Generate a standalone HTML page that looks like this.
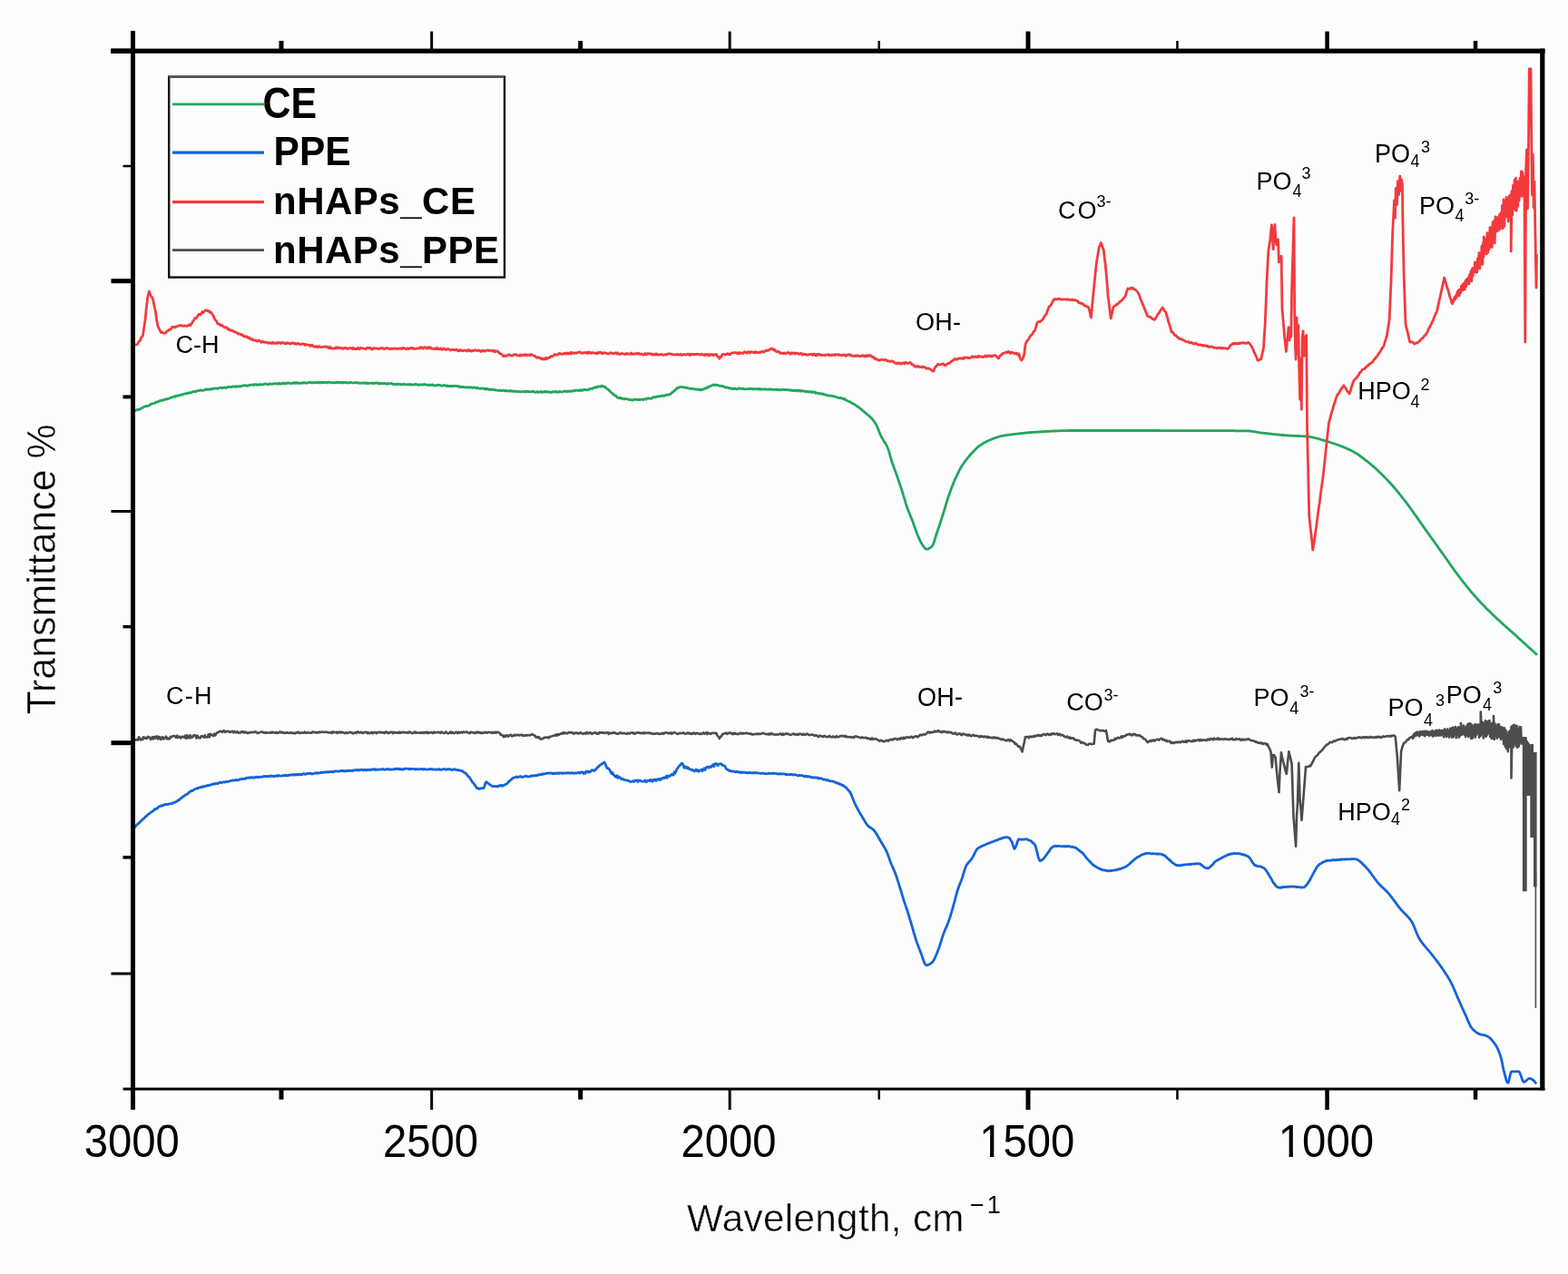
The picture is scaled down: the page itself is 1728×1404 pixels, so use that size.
<!DOCTYPE html>
<html><head><meta charset="utf-8"><title>FTIR spectra</title>
<style>
html,body{margin:0;padding:0;background:#fdfdfd;}
body{width:1728px;height:1404px;overflow:hidden;}
svg{display:block;}
text{font-family:"Liberation Sans",Arial,sans-serif;fill:#000;}
</style></head><body>
<svg width="1728" height="1404" viewBox="0 0 1728 1404">
<polyline points="147,453.3 148,452.8 149,452.7 150,452 151,451.5 152,451.4 153,451.5 154,451 155,450.5 156,449.6 157,449.5 158,448.8 159,448.3 160,447.8 161,447.5 162,447.8 163,447.3 164,446.9 165,446.4 166,445.4 167,445.1 168,445 169,444.7 170,444.5 171,444.1 172,443 173,443.1 174,442.8 175,442.3 176,441.6 177,441.6 178,440.9 179,441.4 180,441 181,440.4 182,439.9 183,440.2 184,439.6 185,439.6 186,439.2 187,438.6 188,438.2 189,438.2 190,437.7 191,437.2 192,437 193,437.3 194,436.2 195,436 196,436.3 197,435.7 198,435.6 199,435.3 200,434.9 201,435.3 202,434.3 203,434.2 204,433.8 205,434 206,433.4 207,433.2 208,433.4 209,432.7 210,432.7 211,432.8 212,431.8 213,431.5 214,431.5 215,431.8 216,431.4 217,430.8 218,430.7 219,430.3 220,430.4 221,429.8 222,430.3 223,430.3 224,430.2 225,429.8 226,429.9 227,428.8 228,428.9 229,429.5 230,429.2 231,428.7 232,429.1 233,428.7 234,428.8 235,428.2 236,428 237,428.2 238,427.8 239,428 240,428.4 241,427.7 242,427.3 243,427.3 244,427.3 245,427.8 246,427.3 247,427.1 248,426.8 249,427.6 250,426.9 251,426.6 252,426.4 253,426.3 254,426.3 255,426.7 256,426.1 257,425.9 258,426.2 259,425.9 260,426.5 261,425.6 262,425.9 263,426 264,425.6 265,426.1 266,425.4 267,425.1 268,425.2 269,424.7 270,425 271,424.7 272,425.3 273,425.1 274,424.7 275,424.1 276,424.3 277,424.2 278,424 279,424 280,424.5 281,423.7 282,423.5 283,424.3 284,423.9 285,424.3 286,423.6 287,424 288,423.7 289,423.8 290,423.7 291,423.4 292,422.9 293,423 294,423.6 295,423.6 296,423.5 297,422.9 298,423.2 299,423.3 300,423.1 301,423.2 302,422.9 303,422.9 304,422.9 305,422.5 306,423.1 307,423.1 308,422.2 309,423 310,423 311,422.6 312,422 313,422.8 314,422 315,422.8 316,422.5 317,421.9 318,422 319,422.4 320,422.3 321,422.5 322,422.6 323,421.9 324,421.6 325,422.5 326,421.6 327,422.4 328,421.6 329,422.3 330,422.3 331,422.3 332,422 333,422.3 334,421.6 335,422 336,421.7 337,422.2 338,422.1 339,421.8 340,421.8 341,421.3 342,421.3 343,421.8 344,421.7 345,422 346,421.8 347,421.3 348,421.5 349,421.9 350,421.6 351,421.1 352,421.9 353,421.9 354,421.1 355,421.6 356,421.4 357,421.8 358,421.3 359,421.3 360,421.5 361,422 362,421.1 363,421.1 364,421.6 365,421.9 366,421.5 367,421.4 368,421.9 369,421.8 370,421.1 371,421.9 372,421.2 373,421.3 374,421.9 375,421.5 376,421.9 377,421.2 378,422 379,421.3 380,421.3 381,421.6 382,421.5 383,421.7 384,422.1 385,421.9 386,421.2 387,421.5 388,421.8 389,421.8 390,422 391,421.8 392,421.4 393,421.6 394,422.2 395,421.7 396,422.2 397,422.4 398,422.1 399,422.1 400,422.1 401,421.8 402,422.4 403,422 404,422.5 405,421.9 406,422.5 407,422.4 408,422.3 409,422.2 410,421.9 411,422.6 412,422.2 413,422.5 414,422 415,422 416,422.1 417,422.8 418,422.2 419,423 420,422.5 421,422.7 422,422.5 423,422.8 424,422.3 425,422.7 426,423.3 427,422.5 428,423 429,422.8 430,422.8 431,422.5 432,422.6 433,423.5 434,423.4 435,423.4 436,423.5 437,423.7 438,422.9 439,423.4 440,423.3 441,423.4 442,423.8 443,423.6 444,423.9 445,423.1 446,423.6 447,423.7 448,423.8 449,423.7 450,423.9 451,423.4 452,424 453,423.5 454,423.8 455,424.1 456,423.9 457,423.5 458,423.5 459,423.6 460,423.9 461,424.3 462,424.3 463,423.8 464,423.8 465,424.2 466,423.7 467,423.9 468,423.5 469,423.7 470,424.1 471,424.3 472,424.3 473,424 474,424.7 475,424.4 476,424 477,423.9 478,424.9 479,424.9 480,424.9 481,424.6 482,424.4 483,424.2 484,424.4 485,424.4 486,425.2 487,425.2 488,425.1 489,424.6 490,424.7 491,424.8 492,425.5 493,424.8 494,425.5 495,425.5 496,425.4 497,425.9 498,425.2 499,425.6 500,425.3 501,425.3 502,425.3 503,425.6 504,425.5 505,425.5 506,426.5 507,425.9 508,426.5 509,426.4 510,426.5 511,426.5 512,426.9 513,426.9 514,426.8 515,426.7 516,426.9 517,427 518,426.9 519,427 520,426.7 521,427.5 522,427.2 523,426.9 524,427.1 525,427.9 526,427.4 527,427.7 528,428.1 529,428.4 530,427.9 531,428.1 532,428.2 533,428 534,428.9 535,428.2 536,429.2 537,428.5 538,428.6 539,429.4 540,429.5 541,429 542,429.4 543,429.4 544,429.7 545,429.3 546,430 547,430.2 548,430 549,430.3 550,430.4 551,430 552,430.5 553,430.6 554,430.4 555,430 556,430.6 557,430.9 558,430.4 559,430.8 560,431.1 561,430.9 562,430.4 563,431.1 564,430.7 565,431.4 566,431.2 567,430.9 568,431.6 569,431.3 570,431.1 571,431.6 572,431.7 573,431.7 574,431.8 575,431.6 576,431.6 577,431.6 578,431.5 579,432 580,431.4 581,431.2 582,431.8 583,431.7 584,431.7 585,431.8 586,431.5 587,431.5 588,431.4 589,432.1 590,432.3 591,432.1 592,431.5 593,432.4 594,432.2 595,431.9 596,431.4 597,432.3 598,432.1 599,432.1 600,431.5 601,432.2 602,431.5 603,432 604,431.6 605,431.9 606,432.4 607,432.2 608,432.3 609,431.7 610,431.8 611,432 612,431.4 613,431.8 614,432.3 615,432 616,432.1 617,431.5 618,431.9 619,431.9 620,431.8 621,431.5 622,431.1 623,430.9 624,431.7 625,431.7 626,431 627,431.4 628,431 629,431.1 630,431.3 631,430.7 632,430.9 633,430.5 634,430.6 635,430.1 636,430.2 637,430.2 638,430.7 639,429.8 640,430.4 641,429.6 642,430.4 643,429.5 644,429.3 645,429.3 646,429.9 647,429.6 648,429.7 649,429.1 650,428.5 651,428.4 652,428.3 653,428.5 654,427.4 655,427.1 656,427.4 657,426.4 658,426.9 659,426 660,426 661,426 662,426.1 663,425.2 664,426 665,425.6 666,426.6 667,426.5 668,428 669,428.3 670,429.2 671,429.9 672,431.1 673,431.8 674,433.2 675,433.6 676,434.2 677,435.7 678,435.7 679,436.5 680,437.8 681,438.3 682,438.4 683,438.9 684,438.2 685,439.3 686,439.4 687,439.5 688,439.9 689,439.4 690,439.6 691,439.7 692,440.2 693,440.4 694,440.5 695,440.4 696,440.9 697,441 698,440.9 699,440.2 700,440.3 701,440.4 702,440.4 703,440.7 704,440.2 705,440.6 706,440.2 707,440.1 708,440.4 709,440.5 710,439.6 711,439.7 712,440.2 713,439.2 714,438.9 715,438.9 716,439.4 717,439.1 718,439.1 719,438.4 720,437.6 721,437.7 722,437.9 723,437.4 724,437 725,437 726,437 727,436.7 728,436.6 729,436.2 730,435.9 731,436.5 732,436.2 733,435.7 734,435.2 735,435.2 736,435.2 737,435.2 738,434.5 739,434.4 740,433.3 741,432.1 742,431.7 743,430.8 744,429.9 745,429.2 746,427.7 747,427.5 748,427.4 749,426.5 750,426.3 751,426.5 752,426.7 753,426.9 754,426.9 755,427.3 756,427 757,427.3 758,427.8 759,427.8 760,428.4 761,428.6 762,428.1 763,428.3 764,428.7 765,428.8 766,428.8 767,429.4 768,428.9 769,429.2 770,429 771,429.8 772,429.5 773,429.8 774,428.8 775,429.1 776,428.7 777,427.7 778,428 779,427.6 780,426.3 781,426.7 782,426 783,425.4 784,425 785,424.4 786,423.9 787,424.2 788,424.6 789,424 790,424.3 791,424.3 792,424.9 793,425.3 794,425.5 795,425.2 796,425.6 797,425.5 798,426.3 799,426.9 800,427.2 801,426.7 802,427.3 803,427.2 804,427.7 805,428.3 806,427.8 807,428.5 808,428.6 809,428.5 810,428 811,428.7 812,428.8 813,428.9 814,427.9 815,427.9 816,428.3 817,428.5 818,428.5 819,428.2 820,428.7 821,428.8 822,428.8 823,428.7 824,428.7 825,428.9 826,428.3 827,428.7 828,428.4 829,428.4 830,429 831,428.6 832,428.7 833,428.6 834,428.9 835,428.5 836,429 837,428.5 838,429.4 839,428.6 840,429.2 841,429 842,428.9 843,428.8 844,428.9 845,429.3 846,429.1 847,429.1 848,428.8 849,429.2 850,428.8 851,429.1 852,429.3 853,429.2 854,429.3 855,429.3 856,429 857,429.8 858,429.5 859,429.6 860,429.9 861,429.4 862,429.4 863,429.4 864,429.4 865,429.5 866,429.5 867,429.5 868,429.8 869,429.7 870,429.8 871,430.2 872,429.9 873,430.5 874,430.5 875,430.1 876,430.7 877,430.1 878,430.1 879,431.1 880,430.2 881,430.3 882,431.2 883,430.4 884,431.2 885,431.2 886,430.9 887,431.1 888,431.9 889,431.4 890,431.4 891,431.7 892,432.1 893,431.7 894,431.6 895,432.5 896,431.9 897,432 898,432.1 899,433.3 900,432.9 901,433.4 902,433.4 903,434 904,433.6 905,433.8 906,434.4 907,433.9 908,434.5 909,435.2 910,435.2 911,435.4 912,436 913,435.8 914,436.3 915,436.2 916,436.1 917,436.6 918,436.7 919,436.7 920,437.1 921,437.2 922,437.7 923,438.1 924,438.3 925,438.6 926,438.3 927,438.8 928,439.3 929,439.1 930,440 931,439.5 932,440.8 933,441.2 934,441.8 935,442.2 936,442.6 937,442.9 938,443.8 939,444.5 940,444.8 941,445.4 942,446 943,446.6 944,447.3 945,448 946,448.7 947,449.5 948,450.2 949,451 950,451.8 951,452.7 952,453.5 953,454.4 954,455.2 955,456.1 956,456.9 957,457.8 958,458.6 959,459.6 960,460.6 961,461.6 962,462.8 963,464 964,465.3 965,466.9 966,468.9 967,471.1 968,473.6 969,476.1 970,478.5 971,480.7 972,482.6 973,484.3 974,485.9 975,487.5 976,489.1 977,490.9 978,492.9 979,495.4 980,498.7 981,502.3 982,506 983,509.2 984,512.1 985,514.8 986,517.5 987,520.1 988,522.9 989,525.7 990,528.7 991,531.6 992,534.6 993,537.7 994,540.8 995,544 996,547.3 997,550.7 998,554.1 999,557.2 1000,560.2 1001,562.8 1002,565.3 1003,567.7 1004,570.1 1005,572.5 1006,575.1 1007,577.9 1008,580.8 1009,583.7 1010,586.5 1011,589 1012,591.4 1013,593.6 1014,595.8 1015,597.8 1016,599.6 1017,601 1018,602.4 1019,603.7 1020,604.7 1021,605.2 1022,605.1 1023,604.8 1024,604.4 1025,603.8 1026,603 1027,602.2 1028,600.7 1029,598.2 1030,595.1 1031,591.8 1032,588.5 1033,585.6 1034,582.6 1035,579.7 1036,576.7 1037,573.7 1038,570.6 1039,567.5 1040,564.4 1041,561.1 1042,557.7 1043,554.4 1044,551.1 1045,548 1046,545.1 1047,542.2 1048,539.5 1049,536.8 1050,534.3 1051,531.8 1052,529.4 1053,527.2 1054,525 1055,522.8 1056,520.8 1057,518.8 1058,516.9 1059,515.2 1060,513.5 1061,512 1062,510.5 1063,509.1 1064,507.7 1065,506.5 1066,505.2 1067,504 1068,502.8 1069,501.7 1070,500.5 1071,499.4 1072,498.3 1073,497.2 1074,496.2 1075,495.2 1076,494.2 1077,493.3 1078,492.4 1079,491.6 1080,490.9 1081,490.2 1082,489.6 1083,488.9 1084,488.3 1085,487.8 1086,487.2 1087,486.7 1088,486.2 1089,485.8 1090,485.3 1091,484.9 1092,484.5 1093,484 1094,483.6 1095,483.2 1096,482.8 1097,482.5 1098,482.1 1099,481.8 1100,481.5 1101,481.2 1102,480.9 1103,480.7 1104,480.5 1105,480.3 1106,480.1 1107,479.9 1108,479.7 1109,479.6 1110,479.4 1111,479.3 1112,479.2 1113,479 1114,478.9 1115,478.8 1116,478.7 1117,478.5 1118,478.4 1119,478.3 1120,478.2 1121,478.1 1122,477.9 1123,477.8 1124,477.7 1125,477.6 1126,477.5 1127,477.4 1128,477.3 1129,477.2 1130,477.1 1131,477 1132,476.9 1133,476.8 1134,476.7 1135,476.6 1136,476.5 1137,476.5 1138,476.4 1139,476.3 1140,476.3 1141,476.2 1142,476.1 1143,476.1 1144,476 1145,476 1146,475.9 1147,475.8 1148,475.8 1149,475.7 1150,475.7 1151,475.6 1152,475.5 1153,475.5 1154,475.4 1155,475.4 1156,475.3 1157,475.3 1158,475.2 1159,475.2 1160,475.1 1161,475.1 1162,475 1163,475 1164,474.9 1165,474.9 1166,474.8 1167,474.8 1168,474.8 1169,474.7 1170,474.7 1171,474.7 1172,474.6 1173,474.6 1174,474.6 1175,474.6 1176,474.6 1177,474.5 1178,474.5 1179,474.5 1180,474.5 1181,474.5 1182,474.5 1183,474.5 1184,474.5 1185,474.5 1186,474.5 1187,474.5 1188,474.5 1189,474.5 1190,474.5 1191,474.5 1192,474.5 1193,474.5 1194,474.5 1195,474.5 1196,474.5 1197,474.5 1198,474.5 1199,474.5 1200,474.5 1201,474.5 1202,474.5 1203,474.5 1204,474.5 1205,474.5 1206,474.5 1207,474.5 1208,474.5 1209,474.5 1210,474.5 1211,474.5 1212,474.5 1213,474.5 1214,474.5 1215,474.5 1216,474.5 1217,474.5 1218,474.5 1219,474.5 1220,474.5 1221,474.5 1222,474.5 1223,474.5 1224,474.5 1225,474.5 1226,474.5 1227,474.5 1228,474.5 1229,474.5 1230,474.5 1231,474.5 1232,474.5 1233,474.5 1234,474.5 1235,474.5 1236,474.5 1237,474.5 1238,474.5 1239,474.5 1240,474.5 1241,474.5 1242,474.5 1243,474.5 1244,474.5 1245,474.5 1246,474.5 1247,474.5 1248,474.5 1249,474.5 1250,474.5 1251,474.5 1252,474.5 1253,474.5 1254,474.5 1255,474.5 1256,474.5 1257,474.5 1258,474.5 1259,474.5 1260,474.5 1261,474.5 1262,474.5 1263,474.5 1264,474.5 1265,474.5 1266,474.5 1267,474.5 1268,474.5 1269,474.5 1270,474.5 1271,474.5 1272,474.5 1273,474.5 1274,474.5 1275,474.5 1276,474.5 1277,474.5 1278,474.5 1279,474.6 1280,474.6 1281,474.6 1282,474.6 1283,474.6 1284,474.6 1285,474.6 1286,474.6 1287,474.6 1288,474.6 1289,474.6 1290,474.6 1291,474.6 1292,474.6 1293,474.6 1294,474.6 1295,474.6 1296,474.6 1297,474.6 1298,474.6 1299,474.6 1300,474.6 1301,474.6 1302,474.6 1303,474.6 1304,474.6 1305,474.6 1306,474.6 1307,474.6 1308,474.6 1309,474.6 1310,474.6 1311,474.6 1312,474.6 1313,474.6 1314,474.6 1315,474.6 1316,474.6 1317,474.6 1318,474.6 1319,474.6 1320,474.6 1321,474.6 1322,474.6 1323,474.6 1324,474.6 1325,474.6 1326,474.6 1327,474.6 1328,474.6 1329,474.6 1330,474.7 1331,474.7 1332,474.7 1333,474.7 1334,474.7 1335,474.7 1336,474.7 1337,474.7 1338,474.7 1339,474.7 1340,474.7 1341,474.7 1342,474.7 1343,474.7 1344,474.7 1345,474.7 1346,474.7 1347,474.7 1348,474.7 1349,474.7 1350,474.7 1351,474.7 1352,474.7 1353,474.7 1354,474.7 1355,474.7 1356,474.7 1357,474.7 1358,474.7 1359,474.7 1360,474.7 1361,474.8 1362,474.8 1363,474.8 1364,474.8 1365,474.8 1366,474.8 1367,474.8 1368,474.8 1369,474.8 1370,474.8 1371,474.8 1372,474.8 1373,474.8 1374,474.8 1375,474.9 1376,474.9 1377,475 1378,475.1 1379,475.3 1380,475.4 1381,475.6 1382,475.7 1383,475.9 1384,476 1385,476.2 1386,476.4 1387,476.5 1388,476.7 1389,476.8 1390,477 1391,477.1 1392,477.2 1393,477.3 1394,477.4 1395,477.5 1396,477.6 1397,477.8 1398,477.9 1399,478 1400,478.1 1401,478.2 1402,478.3 1403,478.4 1404,478.5 1405,478.7 1406,478.8 1407,478.9 1408,479 1409,479.1 1410,479.2 1411,479.3 1412,479.4 1413,479.5 1414,479.5 1415,479.6 1416,479.7 1417,479.8 1418,479.9 1419,479.9 1420,480 1421,480.1 1422,480.1 1423,480.2 1424,480.2 1425,480.3 1426,480.3 1427,480.3 1428,480.4 1429,480.4 1430,480.5 1431,480.5 1432,480.5 1433,480.6 1434,480.6 1435,480.7 1436,480.7 1437,480.8 1438,480.9 1439,480.9 1440,481 1441,481.1 1442,481.2 1443,481.3 1444,481.5 1445,481.7 1446,481.9 1447,482.1 1448,482.3 1449,482.5 1450,482.8 1451,483 1452,483.3 1453,483.6 1454,483.9 1455,484.2 1456,484.5 1457,484.8 1458,485.1 1459,485.4 1460,485.7 1461,486 1462,486.3 1463,486.6 1464,486.9 1465,487.2 1466,487.5 1467,487.9 1468,488.2 1469,488.5 1470,488.8 1471,489.2 1472,489.5 1473,489.8 1474,490.2 1475,490.6 1476,490.9 1477,491.3 1478,491.7 1479,492.1 1480,492.5 1481,492.9 1482,493.3 1483,493.7 1484,494.2 1485,494.6 1486,495.1 1487,495.5 1488,496 1489,496.5 1490,497 1491,497.5 1492,498.1 1493,498.7 1494,499.3 1495,499.9 1496,500.5 1497,501.2 1498,501.9 1499,502.6 1500,503.3 1501,504.1 1502,504.8 1503,505.6 1504,506.4 1505,507.1 1506,507.9 1507,508.7 1508,509.5 1509,510.3 1510,511.1 1511,512 1512,512.8 1513,513.6 1514,514.5 1515,515.4 1516,516.3 1517,517.2 1518,518.1 1519,519.1 1520,520 1521,521 1522,521.9 1523,522.9 1524,523.9 1525,524.9 1526,525.9 1527,527 1528,528 1529,529.1 1530,530.1 1531,531.2 1532,532.3 1533,533.4 1534,534.5 1535,535.7 1536,536.8 1537,538 1538,539.2 1539,540.4 1540,541.6 1541,542.8 1542,544 1543,545.3 1544,546.5 1545,547.8 1546,549.1 1547,550.4 1548,551.6 1549,552.9 1550,554.2 1551,555.5 1552,556.9 1553,558.2 1554,559.6 1555,561 1556,562.3 1557,563.7 1558,565.2 1559,566.6 1560,568 1561,569.4 1562,570.9 1563,572.3 1564,573.7 1565,575.2 1566,576.6 1567,578 1568,579.4 1569,580.9 1570,582.3 1571,583.7 1572,585.1 1573,586.5 1574,587.9 1575,589.3 1576,590.7 1577,592.1 1578,593.5 1579,594.9 1580,596.3 1581,597.7 1582,599.1 1583,600.5 1584,601.9 1585,603.3 1586,604.7 1587,606.1 1588,607.5 1589,608.9 1590,610.3 1591,611.7 1592,613.1 1593,614.5 1594,616 1595,617.4 1596,618.8 1597,620.3 1598,621.7 1599,623.1 1600,624.5 1601,625.9 1602,627.3 1603,628.7 1604,630.1 1605,631.5 1606,632.9 1607,634.2 1608,635.5 1609,636.9 1610,638.1 1611,639.4 1612,640.7 1613,642 1614,643.2 1615,644.5 1616,645.7 1617,647 1618,648.2 1619,649.4 1620,650.6 1621,651.8 1622,653 1623,654.2 1624,655.3 1625,656.5 1626,657.6 1627,658.7 1628,659.9 1629,661 1630,662.1 1631,663.1 1632,664.2 1633,665.2 1634,666.3 1635,667.3 1636,668.3 1637,669.4 1638,670.4 1639,671.4 1640,672.4 1641,673.3 1642,674.3 1643,675.3 1644,676.2 1645,677.2 1646,678.2 1647,679.1 1648,680.1 1649,681 1650,682 1651,682.9 1652,683.8 1653,684.8 1654,685.7 1655,686.6 1656,687.5 1657,688.4 1658,689.3 1659,690.1 1660,691 1661,691.9 1662,692.8 1663,693.7 1664,694.6 1665,695.5 1666,696.3 1667,697.2 1668,698.1 1669,699 1670,699.9 1671,700.8 1672,701.7 1673,702.7 1674,703.6 1675,704.5 1676,705.4 1677,706.3 1678,707.2 1679,708.1 1680,709 1681,709.9 1682,710.8 1683,711.7 1684,712.7 1685,713.6 1686,714.5 1687,715.4 1688,716.3 1689,717.2 1690,718.1 1691,719.1 1692,720 1693,720.9 1694,721.8" fill="none" stroke="#22a65e" stroke-width="2.8" stroke-linejoin="round" stroke-linecap="butt" />
<polyline points="147,380.2 148,380.4 149.1,379.8 150.1,379.9 151.2,379.6 152.2,378.2 153.2,376.2 154.3,375.8 155.3,372.8 156.4,370.8 157.4,370.3 158.7,360.6 160,352.6 161.3,339.9 162.6,328.1 164.3,321.1 165.4,323.9 166.4,326.3 167.5,327.6 168.6,329.9 169.9,336.8 171.3,342.6 172.6,351.7 173.9,359.2 175.2,361.9 176.5,364.8 177.5,366.5 178.6,366 179.6,366.7 180.7,367.2 181.7,367.2 182.8,366.7 184,364.9 185.1,364.7 186.3,363.2 187.4,363.3 188.6,362.3 189.7,360.6 190.8,360.3 191.9,360.1 192.9,361.1 194,359.9 195.1,359.9 196.2,359 197.3,359 198.3,358.7 199.3,358.6 200.3,359 201.3,358.9 202.3,359.4 203.4,358.9 204.4,359.3 205.4,359.1 206.4,359.3 207.4,358.6 208.4,357.7 209.4,358.8 210.5,357.6 211.5,356.1 212.6,354.1 213.6,353 214.7,350.7 215.8,350.8 217,349.3 218.1,347.8 219.3,346.3 220.4,346.8 221.6,346 222.8,343.8 223.9,344.5 225.1,343.2 226.2,342.2 227.3,341.9 228.5,342.2 229.6,343.2 230.6,342.6 231.7,344.5 232.7,344.3 233.8,346.4 234.9,347.6 236.1,350.5 237.2,352.5 238.4,353.5 239.5,356.3 240.7,357 241.8,357.1 243,358.6 244.1,358.2 245.3,359.1 246.4,360.1 247.6,361 248.7,360.6 249.7,360.9 250.8,362.8 251.9,362.3 252.9,363.9 254,364.3 255.1,363.8 256.2,364.4 257.2,365 258.3,365.7 259.4,366 260.4,366.4 261.5,367 262.5,368.1 263.5,367.7 264.6,368.1 265.6,369.1 266.6,368.7 267.6,369.2 268.7,370.9 269.7,370.6 270.7,371.1 271.7,370.6 272.8,371.8 273.8,372.5 274.8,372 275.8,373.5 276.9,374 277.9,373.4 278.9,374.9 279.9,374.8 280.9,375.4 282,375 283,375.9 284,376.1 285,375 286,375.3 287.1,376.6 288.1,377.3 289.1,376.3 290.1,376.8 291.1,377.3 292.2,377 293.2,377.3 294.2,377.4 295.2,377.7 296.2,378.3 297.3,377.7 298.3,377.9 299.3,378.6 300.3,377.2 301.4,378.2 302.4,378.5 303.4,377.8 304.4,377.6 305.4,378.6 306.5,377.6 307.5,377.5 308.5,378 309.5,378.5 310.5,377.4 311.6,377.8 312.6,377.8 313.6,378.7 314.6,378 315.6,378.8 316.7,377.7 317.7,378 318.7,378.6 319.7,379.1 320.8,378.4 321.8,378 322.8,377.9 323.8,378.7 324.9,378.1 325.9,379.3 326.9,379.4 327.9,378.3 329,378.5 330,379.5 331,379.3 332,379.7 333,379 334.1,378.8 335.1,379.2 336.1,380.3 337.1,379.5 338.1,379.8 339.1,380.1 340.2,380.2 341.2,380.4 342.2,381.4 343.2,380.2 344.2,380.1 345.2,381.9 346.3,382 347.3,382.3 348.3,381.5 349.3,382.5 350.3,382.6 351.4,381.4 352.4,382.4 353.4,382.7 354.4,382.5 355.5,382.3 356.5,382 357.5,382.2 358.5,382.1 359.6,381.9 360.6,383 361.6,382.5 362.6,383.6 363.7,382.3 364.7,383.9 365.7,383.6 366.7,384.1 367.7,384.1 368.8,384.1 369.8,383.5 370.8,382.6 371.8,383.9 372.8,382.9 373.9,383.2 374.9,383.8 375.9,383.6 376.9,383.4 377.9,384.4 379,383.8 380,383.4 381,383.3 382,384.4 383,383.7 384.1,384.3 385.1,383.5 386.1,383.3 387.1,383.9 388.2,384.5 389.2,383.3 390.2,384.5 391.2,384.7 392.2,384.5 393.3,384.6 394.3,383.2 395.3,384.3 396.3,384.7 397.3,383.3 398.4,383.7 399.4,383.8 400.4,384.2 401.4,384.1 402.4,384.2 403.4,384.7 404.5,383.3 405.5,383.4 406.5,383.5 407.5,383.5 408.5,383.4 409.5,385.1 410.6,384.8 411.6,383.5 412.6,384.2 413.6,383.9 414.6,383.9 415.6,383.9 416.6,384.5 417.7,384.4 418.7,383.9 419.7,383.6 420.7,383.9 421.7,383.5 422.7,384.3 423.8,384.6 424.8,384 425.8,383.4 426.8,383.6 427.8,384 428.8,384.4 429.8,384.7 430.9,384 431.9,384.7 432.9,384.4 433.9,384.1 434.9,384 435.9,384.2 437,384.6 438,384.1 439,384.5 440,384.1 441,383.7 442,384.2 443,384.5 444,383.3 445.1,383.9 446.1,383.9 447.1,384.7 448.1,384.8 449.1,383.8 450.1,384.7 451.1,384.5 452.1,383.5 453.2,383.8 454.2,383.2 455.2,384.4 456.2,384.1 457.2,384.5 458.2,384.3 459.2,384 460.2,384.1 461.3,383.8 462.3,383 463.3,383.8 464.3,382.7 465.3,383 466.3,384.1 467.3,382.7 468.3,382.8 469.4,382.8 470.4,384.2 471.4,382.9 472.4,382.6 473.4,384 474.4,382.8 475.4,384.2 476.5,384 477.5,384.4 478.5,384.7 479.5,384.1 480.5,384.6 481.5,383.3 482.6,384.7 483.6,384.3 484.6,384.8 485.6,383.8 486.6,385 487.6,385.4 488.7,384 489.7,384.5 490.7,385 491.7,385.6 492.7,384.6 493.7,384.6 494.8,384.8 495.8,385.6 496.8,385.9 497.8,385.4 498.8,385.4 499.8,385.5 500.9,385.6 501.9,385.8 502.9,385.2 503.9,386 504.9,386.9 505.9,385.9 506.9,386.5 507.9,385.5 508.9,386.5 509.9,386.6 510.9,386.5 511.9,386.2 512.9,386.2 513.9,386.5 514.9,387 515.9,385.6 516.9,385.6 517.9,386.7 518.9,387.1 519.9,386.4 520.9,386.3 521.9,386.8 522.9,385.8 523.9,386 524.9,385.9 526,386.6 527,386.1 528,386 529,386.9 530,387.4 531,386.2 532,386.9 533,386.4 534,387.3 535,386.8 536,386.2 537,386.2 538,385.8 539,386.7 540,386.5 541,386.2 542,386.5 543,386.5 544,387.3 545,386.2 546,387.7 547,386.8 548,387.1 549,387.6 550,389 551,389.7 552,390 553,390.6 554,391.8 555,392.7 556,391.8 557,392.3 558,392.6 559,391.6 560,391 561,390.9 562,391.7 563,391.6 564,392.1 565,391.9 566,390.8 567.1,390.7 568.1,390.9 569.1,390.7 570.1,391.7 571.1,391.9 572.1,392 573.1,390.9 574.1,392 575.1,391 576.1,391.2 577.2,391.7 578.2,390.6 579.2,390.6 580.2,391.9 581.2,390.9 582.2,391 583.2,391.4 584.2,391.6 585.2,390.4 586.2,391 587.3,391.6 588.3,392.1 589.4,392.1 590.4,393.2 591.5,394.3 592.5,393.7 593.6,394.4 594.6,394.1 595.7,394.8 596.7,395.9 597.9,394.8 599,396 600.2,395.9 601.3,394.3 602.5,395.6 603.6,394.5 604.7,394.7 605.8,394.1 606.9,392.7 608,392.9 609,392.3 610.1,392 611.2,390.5 612.3,390.9 613.3,391.2 614.3,390.6 615.3,390.3 616.3,389.4 617.3,390 618.3,389.7 619.3,390.3 620.3,390.2 621.3,389.9 622.3,389.1 623.3,389.9 624.3,389.8 625.3,388.9 626.3,390.1 627.3,389.6 628.3,388.6 629.3,390 630.3,388.5 631.3,388.8 632.3,389.4 633.3,389.1 634.3,389 635.3,389.1 636.3,388.7 637.3,388.3 638.3,388 639.3,387.8 640.3,389 641.3,389.1 642.3,388.8 643.3,389.1 644.4,388.5 645.4,388.3 646.4,388.6 647.4,389.5 648.4,388 649.4,388.9 650.4,388.4 651.4,389.4 652.4,388.6 653.4,388.6 654.4,388.8 655.4,389.1 656.5,389.5 657.5,388.8 658.5,389.7 659.5,388.4 660.5,388.7 661.5,388.4 662.5,388.4 663.5,389.7 664.5,389.6 665.5,388.6 666.5,388.7 667.6,389.1 668.6,389.7 669.6,389.9 670.6,389.8 671.6,389.5 672.6,388.7 673.6,389.2 674.6,388.8 675.6,389.5 676.6,389.6 677.6,388.9 678.6,389 679.7,390 680.7,388.7 681.7,390.1 682.7,390.3 683.7,390.4 684.7,389.4 685.7,389.7 686.7,389.8 687.7,389.9 688.7,390.6 689.7,390.1 690.7,389.4 691.8,390.4 692.8,389.8 693.8,390 694.8,390.3 695.8,389 696.8,390.4 697.8,390.2 698.8,389.9 699.8,390 700.8,389.9 701.8,389.4 702.9,390.1 703.9,389.2 704.9,390.1 705.9,390.4 706.9,390 707.9,390.3 708.9,391 709.9,390.9 710.9,389.5 711.9,390.7 712.9,390.5 713.9,389.5 715,390 716,389.8 717,389.6 718,390.4 719,391.2 720,390.1 721,391.1 722,390.8 723,389.8 724,391.1 725,390.6 726,391.2 727,390.9 728,390.9 729.1,390.2 730.1,391.1 731.1,391.3 732.1,391.2 733.1,390.5 734.1,391 735.1,390.6 736.1,389.9 737.1,389.8 738.1,389.9 739.1,390.1 740.1,390.1 741.1,390.7 742.1,391 743.1,390.8 744.1,390.6 745.1,391 746.2,390.4 747.2,390.7 748.2,391.2 749.2,390.6 750.2,390.2 751.2,391.5 752.2,391.2 753.2,390.6 754.2,390.6 755.2,390.9 756.2,391 757.2,390.4 758.2,390 759.2,390.4 760.2,391.4 761.2,390.3 762.2,390.9 763.2,390.4 764.3,390.5 765.3,390.4 766.3,390.8 767.3,390.4 768.3,390.2 769.3,390.3 770.3,390.5 771.3,391 772.3,390.3 773.3,390.2 774.3,391 775.3,391 776.3,391.5 777.3,390.3 778.3,391 779.3,391 780.3,390.3 781.4,392 782.4,390.7 783.4,390.5 784.4,391.2 785.4,390.6 786.4,391.5 787.4,391 788.4,390.6 789.4,390.5 790.6,392.8 791.7,393.2 792.9,395.2 793.9,393.4 795,393 796,390.6 797,390.4 798,390.3 799,391.2 800,390.8 801,390.1 802.1,389.6 803.1,390.5 804.1,390.9 805.1,390.1 806.1,389 807.1,388.9 808.1,388.9 809.1,388.9 810.1,388.6 811.1,388.5 812.2,389.4 813.2,389.8 814.2,388.4 815.2,389.7 816.2,388.7 817.2,389.1 818.2,389.3 819.2,389.3 820.2,387.7 821.2,388.1 822.3,388.6 823.3,389.2 824.3,387.6 825.3,388 826.3,388.9 827.3,387.6 828.3,388 829.4,387.9 830.4,388.5 831.4,388.9 832.4,387.5 833.4,388.5 834.4,388.5 835.4,388.6 836.4,388.1 837.5,388.7 838.5,387.7 839.5,387.7 840.5,387.3 841.5,388.3 842.6,387.3 843.7,386.5 844.8,385.9 845.9,386.4 846.9,385.8 848,385.6 849.1,384.5 850.2,384.3 851.3,384.2 852.4,385.8 853.5,385.1 854.5,386.4 855.6,387.5 856.7,387.8 857.8,387.3 858.9,388.1 859.9,389.3 860.9,389 862,389.5 863,389.5 864,388.8 865,389.7 866,389.5 867.1,388.8 868.1,389 869.1,388.5 870.1,389.2 871.1,390.2 872.2,388.8 873.2,389.7 874.2,388.9 875.2,388.9 876.2,390 877.3,389.4 878.3,389.1 879.3,389.3 880.3,390.3 881.4,390.2 882.4,389.3 883.4,389.7 884.4,391.1 885.4,389.9 886.5,390.5 887.5,390.3 888.5,391.1 889.5,390.8 890.5,391.2 891.6,390.8 892.6,390.3 893.6,390.3 894.6,390.2 895.6,391.5 896.7,390.2 897.7,390.1 898.7,391.8 899.7,390.4 900.7,391.7 901.8,390.2 902.8,390.9 903.8,390.5 904.8,391.6 905.8,391.2 906.9,391.3 907.9,391.5 908.9,391.7 909.9,390.8 911,391.3 912,391 913,390.4 914,391.7 915,391.3 916.1,391.7 917.1,390.6 918.1,391.3 919.1,391.1 920.1,391.6 921.2,390.5 922.2,391 923.2,391.2 924.2,390.5 925.2,391.4 926.3,391.7 927.3,391.1 928.3,391.6 929.3,391.5 930.3,390.8 931.3,391.1 932.3,392.3 933.3,391.1 934.4,391.3 935.4,390.7 936.4,391 937.4,390.9 938.4,392.3 939.4,392 940.4,392.3 941.4,392.5 942.4,391.9 943.4,392.5 944.5,391.8 945.5,391.6 946.5,392.6 947.5,392.5 948.5,392.6 949.5,391.8 950.5,392.4 951.5,391.7 952.5,392.8 953.5,392.7 954.6,391.6 955.6,392.8 956.6,391.5 957.6,391.3 958.6,392.5 959.6,391.7 960.8,392.9 961.9,393.8 963,393.5 964.2,395.5 965.4,395.4 966.5,396.4 967.6,396.3 968.6,397.1 969.7,397.1 970.8,396.4 971.8,396.1 972.9,396.5 974,396.8 975.1,396.2 976.1,396.4 977.2,397.6 978.3,397.5 979.3,398.1 980.4,398.2 981.4,398.4 982.4,397.9 983.4,398 984.4,398.7 985.4,399.4 986.4,399.9 987.4,400.4 988.4,400 989.5,400.9 990.5,399.9 991.6,400.2 992.6,401 993.6,400.9 994.7,399.9 995.7,399.8 996.8,400.9 997.8,399.4 998.8,399.6 999.9,400.4 1000.9,400.4 1002,399.7 1003,399.5 1004.1,400.3 1005.2,401.9 1006.3,401.9 1007.4,403.4 1008.4,403.6 1009.5,404.5 1010.6,403.4 1011.7,404.2 1012.7,403.9 1013.7,404.7 1014.7,404.6 1015.7,404 1016.7,405 1017.7,404.2 1018.7,404.6 1019.7,404.8 1020.7,406.2 1021.7,405.8 1022.7,405.9 1023.8,405.9 1024.8,406.9 1025.8,407.6 1026.8,408.1 1027.8,408.9 1028.8,409.1 1029.9,406.2 1030.9,404.2 1032,403.6 1033.1,401.8 1034.2,401.4 1035.3,402.1 1036.4,401.7 1037.4,401.3 1038.5,401.1 1039.6,401 1040.7,402.2 1041.8,402.7 1042.9,402.1 1043.9,400.8 1045,400.5 1046,400.4 1047.1,399.6 1048.1,398.6 1049.2,397.7 1050.2,397.3 1051.3,396.1 1052.3,395.5 1053.4,395.8 1054.4,396.3 1055.5,395.4 1056.5,395 1057.6,394.8 1058.6,394.8 1059.7,395.3 1060.7,394.6 1061.8,395.4 1062.8,393.8 1063.8,394 1064.9,394.3 1065.9,393.9 1067,394.6 1068,394.5 1069.1,394.5 1070.1,393.8 1071.2,392.7 1072.2,393.5 1073.2,393.4 1074.2,393.3 1075.3,392.8 1076.3,393.5 1077.3,393.8 1078.3,392.3 1079.4,393.3 1080.4,392.7 1081.4,392.9 1082.5,393.5 1083.5,393.5 1084.5,392.9 1085.5,392 1086.5,393.3 1087.6,391.9 1088.6,392.2 1089.6,392.9 1090.7,391.9 1091.7,391.8 1092.7,393 1093.7,392.9 1094.8,391.7 1095.8,391.8 1096.8,391.5 1098.2,392.7 1099.7,394.4 1100.8,394.8 1101.9,392.2 1103,391.6 1104.1,390.7 1105.1,389.5 1106.2,389.4 1107.3,388.9 1108.4,388.2 1109.4,388 1110.5,388.6 1111.5,387.3 1112.5,388 1113.5,389.5 1114.6,388.1 1115.6,388.6 1116.6,389.2 1117.7,389 1118.7,389.8 1119.7,389.1 1120.7,389.6 1121.8,391.1 1122.8,389.9 1124.2,394.8 1125.7,397.1 1127.2,395 1128.6,390.8 1130.1,379.1 1131.3,376.7 1132.4,374.9 1133.6,374 1134.7,371.6 1135.9,369.8 1137,369.1 1138.1,367.7 1139.1,365.3 1140.2,365 1141.7,360.1 1143.1,355.6 1144.3,354.6 1145.4,354.4 1146.6,354.5 1147.7,353.1 1148.9,352.4 1150,350.6 1151.1,348.8 1152.1,347.2 1153.2,346.1 1154.7,341.5 1156.1,338 1157.3,337.2 1158.4,335.5 1159.6,333.8 1160.7,331.1 1161.9,329.5 1162.9,330.2 1164,329.7 1165,329.9 1166,329.5 1167,329.1 1168.1,329.5 1169.1,330 1170.1,330.1 1171.2,329.9 1172.2,329.8 1173.2,329.9 1174.3,329.9 1175.3,330 1176.3,330.4 1177.4,329.7 1178.4,330.3 1179.5,330.7 1180.5,330.7 1181.5,329.9 1182.6,330.9 1183.6,330.8 1184.6,330.5 1185.7,331.1 1186.7,331.6 1187.7,331.9 1188.7,333.5 1189.8,333.4 1190.8,334.4 1191.9,334.1 1193,334.5 1194.1,336.1 1195.2,336.6 1196.2,337.3 1197.3,337.5 1198.4,337.9 1199.5,338.7 1201,343.7 1202.4,350 1203.5,338.3 1204.6,326.4 1205.8,314.9 1207,302.5 1208.2,290.6 1209.7,281.8 1211.1,273.1 1212.2,270.2 1213.3,267.6 1214.8,271.7 1216.2,275.2 1217.2,283.8 1218.3,292.5 1219.8,309.2 1221.2,327.4 1222.7,338.8 1224.1,350.9 1225.5,344.9 1227,338.7 1228.2,337.3 1229.3,336.8 1230.5,335.5 1231.6,335.4 1232.8,333.9 1233.8,332.9 1234.9,332 1235.9,331.4 1236.9,330.5 1237.9,328.9 1239,327.8 1240,326.9 1241.5,321.9 1242.9,318 1244.1,318.4 1245.2,318.2 1246.4,317.2 1247.5,318 1248.7,317.3 1249.9,319 1251,319.3 1252.2,320.1 1253.3,321.5 1254.5,323 1255.8,326 1257.1,330.1 1258.1,332.5 1259.1,334.6 1260.1,337.1 1261.2,339.9 1262.2,342.3 1263.2,344.8 1264.2,347.7 1265.2,348.6 1266.2,349 1267.2,349.1 1268.2,349.9 1269.3,350.7 1270.3,351.7 1271.3,351.8 1272.3,352.4 1273.4,350.9 1274.4,349.1 1275.5,347 1276.5,345.8 1277.6,344.5 1278.8,342.2 1280,340.7 1281.2,339 1282.4,340.8 1283.5,342.7 1284.7,343.9 1285.8,347.8 1286.8,350.6 1287.8,355.1 1288.9,358.1 1290,361.7 1291,365.8 1292,366.1 1293,367 1294,368.8 1295.1,369.5 1296.1,369.9 1297.1,370.9 1298.1,372.3 1299.2,372.3 1300.2,373.8 1301.3,373.4 1302.4,374 1303.4,374.6 1304.5,375.2 1305.6,375.5 1306.7,376.2 1307.7,376.7 1308.8,376.8 1309.8,376.6 1310.8,377.9 1311.8,377.8 1312.8,377.3 1313.8,378 1314.8,378.6 1315.8,379.1 1316.8,378.2 1317.8,378.3 1318.8,379.1 1319.8,379.3 1320.8,380.1 1321.8,380.2 1322.8,379.8 1323.8,380.2 1324.8,380.6 1325.8,381.2 1326.8,380.5 1327.8,380.9 1328.9,380.8 1329.9,381.6 1330.9,381.1 1331.9,382.4 1332.9,382.1 1333.9,382.3 1334.9,381.9 1336,382.3 1337,382.8 1338,383.4 1339,383.2 1340,383 1341,383.9 1342.1,383.6 1343.1,383.5 1344.1,383.1 1345.1,383.3 1346.2,384.1 1347.2,383.2 1348.2,383.8 1349.2,383.9 1350.2,383.7 1351.3,384.2 1352.3,384.4 1353.3,384.4 1354.4,383.2 1355.4,381.5 1356.5,380.3 1357.5,379.7 1358.6,378.5 1359.6,378.3 1360.7,379 1361.7,378.2 1362.8,378.9 1363.8,379 1364.9,377.9 1365.9,378.8 1367,378.2 1368,377.9 1369.1,377.8 1370.1,377.6 1371.2,378.1 1372.2,377.9 1373.3,378.4 1374.3,378.3 1375.4,377.3 1376.4,377.7 1377.6,379.5 1378.8,381 1380,382.9 1381,385.3 1382.1,388.2 1383.1,390.1 1384.1,392.2 1385.2,394.7 1386.2,397.3 1387.4,396.9 1388.6,396 1389.8,395.9 1391.2,389.1 1392.5,383.4 1394.3,354.8 1396,311.6 1397.8,276.6 1399.6,265.5 1401.4,247.8 1402.3,262.1 1403.2,274.7 1404.1,254.9 1404.9,247.3 1405.8,262.3 1406.7,269.6 1408.5,263.9 1409.4,288.9 1410.8,285 1412.1,282.2 1413,340.7 1414.3,355.3 1415.6,371.2 1417.4,387.4 1418.8,373.2 1420.1,360.6 1421,375 1422,361.6 1422.8,371.1 1423.6,318.9 1424.8,279.7 1426,239.9 1426.7,343.5 1427.4,380 1428.1,396.1 1429,350 1429.8,390 1430.8,358.7 1431.6,399.9 1432.6,440.2 1433.2,395.1 1434.3,451.3 1435.2,371.6 1436.1,364.9 1437,392.3 1437.9,390.5 1438.8,371.8 1439.7,369.5 1440.6,475 1441.7,521 1442.7,568.1 1443.7,577.7 1444.8,587.4 1445.8,596.6 1446.8,606.1 1447.8,599.7 1448.9,592.5 1450,584.8 1451,577.8 1452,570.1 1453,562 1454.1,554.8 1455.1,546.9 1456.1,539.1 1457.2,531.2 1458.2,524.2 1459.2,514.3 1460.3,505.1 1461.3,494.8 1462.3,485.4 1463.4,475.6 1464.4,466.2 1465.4,462.7 1466.5,458.4 1467.5,454.6 1468.6,451.4 1469.6,447.3 1470.6,444.6 1471.7,441.1 1472.7,437.9 1473.7,435.3 1474.7,434.3 1475.8,432.8 1476.8,430.9 1477.8,429.3 1478.8,427.4 1479.9,426.2 1480.9,424.8 1481.9,427.1 1483,427.6 1484,430.2 1485,431.2 1486.1,432.7 1487.1,434 1488.1,431.5 1489.2,427.2 1490.2,424.3 1491.2,420.9 1492.2,419.2 1493.3,417.8 1494.3,417.3 1495.3,415.7 1496.4,414.3 1497.4,413.1 1498.4,410.8 1499.5,410.1 1500.5,408.8 1501.5,407.3 1502.6,406.8 1503.6,406.6 1504.7,405 1505.7,404.7 1506.7,403.1 1507.8,402.9 1508.8,401.6 1509.9,401 1510.9,400 1512.1,399.3 1513.2,397.8 1514.3,396.2 1515.5,395.1 1516.7,393.4 1517.8,392.6 1518.8,390.4 1519.8,389.2 1520.8,387.8 1521.9,386 1522.9,384.1 1523.9,382.7 1524.9,381.8 1526.1,377.1 1527.3,373.6 1528.5,369.1 1529.8,360.7 1531.2,351.7 1533,310.6 1534.7,256.7 1536.5,220.8 1537.5,240.1 1538.3,207.3 1539.5,225.5 1540.5,199.6 1541.5,214.6 1542.8,194.2 1543.8,210.3 1544.6,198 1545.4,203.7 1546,247.6 1547.2,305.1 1549,356.8 1550.1,361.6 1551.2,366 1552.3,370.9 1553.4,376.3 1554.5,377.2 1555.6,376.8 1556.6,377.2 1557.7,377.9 1558.8,379.2 1559.9,378.2 1560.9,377.8 1562,377.9 1563,376.9 1564.1,375.9 1565.1,375.4 1566.1,373.6 1567.1,372.9 1568.2,372.4 1569.2,370.7 1570.2,369.6 1571.2,369.1 1572.2,366.9 1573.3,365.6 1574.3,362.5 1575.3,361.3 1576.3,358.8 1577.4,357.2 1578.4,354.7 1579.5,352.5 1580.5,349.6 1581.6,347 1582.6,344.8 1583.7,342.8 1584.9,336.8 1586.1,331.3 1587.3,326.2 1588.4,320.7 1589.5,315.9 1590.6,311.1 1591.7,306 1593.1,310.9 1594.4,315.4 1595.5,318.7 1596.6,322.3 1597.6,326.2 1598.7,329.6 1599.8,333.6 1600,333.1 1600.8,334.8 1601.5,330.4 1602.2,332 1603,327.3 1603.8,329.7 1604.5,325.4 1605.2,327.6 1606,321.6 1606.8,325.9 1607.5,319.6 1608.2,325.8 1609,318.9 1609.8,322.5 1610.5,315.4 1611.2,320.2 1612,313.4 1612.8,319.7 1613.5,311.8 1614.2,318.9 1615,309.5 1615.8,315.6 1616.5,307.6 1617.2,312.6 1618,306.3 1618.8,312.9 1619.5,303 1620.2,308.2 1621,298.7 1621.8,309.9 1622.5,296 1623.2,304.2 1624,295.2 1624.8,299.6 1625.5,288.9 1626.2,300 1627,289.4 1627.8,295.1 1627.8,300 1628.5,284.7 1629.2,293.9 1630,278.7 1630.8,296.2 1631.5,278.6 1632.2,291.1 1633,271.1 1633.8,291.3 1634.5,267.8 1635.2,282.9 1635.2,261 1636,264.1 1636.8,277.1 1637.5,263.3 1638.2,279.9 1639,256.7 1639.8,278.2 1640.5,257.3 1641.2,274.7 1642,250.6 1642.8,271.7 1643.5,250.8 1644.2,272.6 1645,245.2 1645.8,265.6 1646.5,243.3 1647.2,256.4 1647.2,268 1648,238.9 1648.8,255.3 1649.5,239.7 1650.2,254.6 1651,239.7 1651.8,253.8 1652.5,236.6 1653.2,252.3 1654,234.5 1654.8,246.7 1655.5,226.5 1656.2,251.9 1657,224 1657,220 1657.8,249.4 1658.5,224.8 1659.2,239 1660,217.5 1660.8,238.6 1661.5,220.3 1662.2,244 1663,216.5 1663.8,234.3 1664.5,214.9 1665.2,239.3 1665.2,277 1666,210.4 1666.8,237 1667.5,204.4 1668.2,229.3 1669,198.3 1669.8,231.4 1670.5,196.1 1671.2,232.3 1672,199.8 1672.8,227.3 1673.5,200.6 1674.2,220.9 1675,196.3 1675.8,210.3 1676.5,188.7 1677.2,216.4 1678,191.5 1678,190 1679,214 1680,195 1680.8,377 1681.6,190 1682.5,165 1683.5,230 1684.5,160 1685.3,76 1687,76 1687.8,160 1688.5,215 1689.3,170 1690.2,229 1691,200 1692,260 1693,317 1693.5,280" fill="none" stroke="#f33a3d" stroke-width="2.8" stroke-linejoin="round" stroke-linecap="butt" />
<polyline points="147,913.5 148,912.4 149,911.1 150,909.8 151,908.5 152,908.1 153,907 154,906.3 155,904.9 156,904.4 157,902.9 158,902.6 159,901.6 160,900.4 161,899.6 162,898.8 163,897.5 164,897 165,896.5 166,895.2 167,895 168,894.1 169,893.6 170,892.4 171,891.5 172,891.6 173,891 174,890 175,889.1 176,888.6 177,888.5 178,887.7 179,888 180,887.3 181,886.6 182,886.8 183,886.3 184,886.7 185,886.5 186,885.9 187,885.9 188,885.7 189,885.6 190,885.6 191,884.4 192,884.4 193,884.2 194,883.5 195,883.2 196,882 197,882.1 198,881 199,879.8 200,879.6 201,878.5 202,877.6 203,877.2 204,876.2 205,875.6 206,875.5 207,874.6 208,873.2 209,873.2 210,871.8 211,871.5 212,871.5 213,870.8 214,870 215,869.7 216,869.3 217,868.6 218,869.1 219,867.8 220,867.9 221,867.9 222,867.2 223,867.5 224,866.5 225,866.9 226,866.6 227,866.1 228,866.1 229,865.4 230,865.6 231,865.3 232,864.8 233,864.6 234,864.6 235,864.1 236,863.6 237,864.1 238,863.4 239,863.4 240,863.6 241,862.8 242,862.4 243,862.3 244,862.6 245,862.2 246,861.9 247,861.9 248,862.2 249,861.4 250,861.3 251,861.6 252,861.2 253,860.6 254,860.7 255,860.5 256,860 257,860 258,859.8 259,860.1 260,859.5 261,859.6 262,859.8 263,859.6 264,858.9 265,858.9 266,858.5 267,858.4 268,858.3 269,858.4 270,858.4 271,857.6 272,857.2 273,857.5 274,856.9 275,856.8 276,857.4 277,856.6 278,857.1 279,856.7 280,857.1 281,857 282,856.1 283,856.1 284,856.8 285,856.4 286,856.1 287,856.4 288,856.4 289,856 290,855.9 291,855.4 292,855.6 293,855.4 294,855.8 295,855.7 296,855.2 297,855.6 298,855 299,855 300,855.5 301,855.2 302,855.6 303,855.3 304,855.3 305,854.7 306,855.3 307,854.5 308,855 309,855.2 310,855.1 311,855.1 312,854.6 313,854.7 314,854.8 315,854 316,854.8 317,854.7 318,854.1 319,854.4 320,854 321,853.8 322,854.1 323,853.4 324,854.1 325,854.2 326,853.5 327,854 328,853.1 329,853.8 330,853.2 331,853.8 332,853.2 333,853.6 334,852.7 335,852.6 336,853.3 337,853 338,852.9 339,852.3 340,852.4 341,852.5 342,852.1 343,853 344,852.7 345,852.8 346,852.5 347,852 348,851.7 349,852.3 350,851.6 351,851.9 352,851.8 353,851.7 354,851.2 355,851.1 356,851.5 357,850.9 358,851.3 359,850.8 360,850.9 361,850.7 362,851 363,850.7 364,850.5 365,850.4 366,850.6 367,850.9 368,850.3 369,849.9 370,850 371,849.8 372,850.1 373,850.2 374,849.9 375,849.5 376,849.5 377,849.5 378,849.5 379,849.4 380,850 381,849.5 382,849.5 383,849.5 384,849.4 385,849.5 386,849 387,849.3 388,849.6 389,848.7 390,849.1 391,848.8 392,848.5 393,848.4 394,849.1 395,848.4 396,848.9 397,848.3 398,848.5 399,848.1 400,848.6 401,848.8 402,848.2 403,848.5 404,848.8 405,848.2 406,848.3 407,848.5 408,848.6 409,847.9 410,848.3 411,847.8 412,847.7 413,848.6 414,847.6 415,848.4 416,848.2 417,848.1 418,848.2 419,848.1 420,847.7 421,847.8 422,847.5 423,848.2 424,848.1 425,848 426,847.5 427,847.8 428,847.5 429,848 430,847.9 431,848.2 432,847.9 433,847.8 434,847.9 435,847.2 436,847.7 437,847.1 438,847.5 439,847.2 440,848 441,847.1 442,848 443,848 444,847.5 445,847.9 446,847.2 447,847.2 448,847.1 449,847.2 450,847.1 451,847.9 452,847.2 453,847.7 454,847.4 455,847.3 456,847.5 457,847.3 458,848.1 459,847.5 460,847.7 461,847.7 462,847.8 463,847.6 464,847.4 465,847.3 466,848.1 467,847.4 468,847.6 469,848 470,847.8 471,848.2 472,848 473,847.7 474,847.4 475,847.8 476,847.7 477,848.1 478,847.8 479,848 480,848.1 481,847.8 482,848.2 483,848.2 484,847.5 485,848.3 486,848.2 487,848.2 488,847.7 489,847.7 490,847.6 491,847.8 492,848.3 493,847.9 494,847.5 495,847.8 496,847.6 497,848.2 498,848.4 499,848.5 500,847.7 501,848 502,847.8 503,848.6 504,848.6 505,848.5 506,849.1 507,849 508,849.5 509,849.6 510,849.9 511,851 512,851.4 513,851.9 514,853.2 515,854.2 516,855.7 517,856.3 518,857.8 519,859.2 520,861 521,862.3 522,863.2 523,865.1 524,866.1 525,867.9 526,868.9 527,868.6 528,869.5 529,869.2 530,868.6 531,868.9 532,868.7 533,868.6 534,866.3 535,862.8 536,861.7 537,862.4 538,863.4 539,864.1 540,864.8 541,865.3 542,866.4 543,866.4 544,866.7 545,866.4 546,866.6 547,866.7 548,866.3 549,866.6 550,865.8 551,865.5 552,866.2 553,865.3 554,866.1 555,865.5 556,864.8 557,864.5 558,864.2 559,863.1 560,862.4 561,860.9 562,860.6 563,859.2 564,858.8 565,857.4 566,857.3 567,856.8 568,856.6 569,856 570,856.4 571,856.6 572,855.8 573,856 574,855.5 575,856.4 576,856.3 577,856 578,855.7 579,855.2 580,855.2 581,855.8 582,855.8 583,855.9 584,855.7 585,855.2 586,854.9 587,855 588,854.7 589,854.8 590,854.9 591,854.3 592,854.7 593,854.2 594,853.4 595,853.9 596,853.6 597,853.4 598,852.6 599,853.3 600,852.8 601,852.7 602,852.3 603,852.1 604,852 605,852.1 606,852.2 607,852 608,851.9 609,852.5 610,852.5 611,852.6 612,851.9 613,852.4 614,852.3 615,851.7 616,852.5 617,852 618,851.8 619,851.8 620,852.5 621,851.8 622,851.9 623,852.1 624,851.9 625,852.1 626,851.6 627,851.9 628,852 629,852 630,852 631,851.6 632,852 633,852.3 634,851.8 635,851.9 636,852 637,851.4 638,851.4 639,852 640,850.9 641,851.2 642,851 643,852.6 644,851.3 645,852.2 646,850 647,850.2 648,851.1 649,850 650,850.8 651,850.1 652,848.7 653,848.6 654,849.3 655,849.3 656,848 657,847.6 658,845.9 659,845.5 660,844.3 661,843.3 662,842.6 663,842.3 664,841.2 665,841 666,840 667,841.8 668,844.1 669,846.5 670,846.5 671,847.3 672,848.5 673,850.7 674,852.6 675,851.4 676,854 677,854.3 678,855.6 679,856.4 680,854.8 681,857.3 682,856 683,856.5 684,857.8 685,858.7 686,858 687,859.1 688,859.3 689,859.6 690,859.8 691,859.8 692,860.4 693,860.7 694,861 695,861.7 696,861.5 697,861.1 698,860.6 699,861.4 700,860.2 701,860.2 702,859.9 703,861.5 704,860 705,860.1 706,860.5 707,861 708,861.2 709,861 710,861 711,859.8 712,861.7 713,861.2 714,860.2 715,860.1 716,860.5 717,859.2 718,860.6 719,861.2 720,859.5 721,859.8 722,858.9 723,860.6 724,858.9 725,858.6 726,859.4 727,858.2 728,859.4 729,857.8 730,858 731,857 732,857.5 733,856.9 734,855.5 735,857.4 736,854.9 737,855.7 738,855.5 739,854.5 740,853.6 741,853.3 742,854.3 743,850.8 744,852.1 745,849.8 746,847.7 747,846.3 748,844.6 749,843.7 750,843 751,841.3 752,841.3 753,843 754,846.2 755,845.7 756,844.9 757,846.7 758,845.7 759,846.7 760,847.8 761,848 762,848 763,849 764,848.6 765,849.8 766,849.5 767,848.1 768,849.6 769,848.5 770,850.2 771,849.3 772,848.8 773,848 774,849.7 775,848.1 776,846.8 777,848.6 778,845.9 779,845.5 780,844.9 781,846.1 782,845.4 783,844.6 784,845.4 785,843.7 786,842.6 787,844.5 788,841.8 789,841.5 790,841.8 791,843.7 792,842 793,841.8 794,841.7 795,841.8 796,843.2 797,843.6 798,843.6 799,844.5 800,846.8 801,847.6 802,848.4 803,848.6 804,849.7 805,849.4 806,850 807,850 808,850.1 809,849.7 810,850.7 811,850.8 812,850.1 813,850.3 814,851 815,851.1 816,850.7 817,851.6 818,850.8 819,851.3 820,851.3 821,851.2 822,851.6 823,851.5 824,851.9 825,851.9 826,851.2 827,851.6 828,851.8 829,851.6 830,852 831,851.4 832,851.6 833,852 834,851.7 835,851.8 836,852 837,852.2 838,852.3 839,852.3 840,852.2 841,852.1 842,852.6 843,852.6 844,852.7 845,852.8 846,852.5 847,852.1 848,852.6 849,852.2 850,852.3 851,852.4 852,852 853,852.5 854,852.3 855,852.4 856,852.6 857,853 858,852.9 859,852.6 860,853.1 861,852.8 862,852.8 863,853 864,852.9 865,852.8 866,853.7 867,853.4 868,853.6 869,853.6 870,853.6 871,853.8 872,853.3 873,853.4 874,854 875,854 876,853.7 877,854 878,854.2 879,854.9 880,854.9 881,854.2 882,854.7 883,854.7 884,854.6 885,854.9 886,855.7 887,855.8 888,855.2 889,855.9 890,855.4 891,856 892,855.6 893,856.3 894,856.4 895,857 896,856.7 897,857.2 898,856.7 899,857.2 900,857 901,857 902,858.1 903,857.4 904,857.9 905,858 906,858.1 907,859 908,859.1 909,859 910,859.4 911,859.9 912,859.4 913,860.2 914,860.7 915,860.7 916,860.9 917,860.9 918,861.2 919,861.5 920,862 921.1,862.2 922.1,863.1 923.1,862.8 924.1,863.1 925.1,864.2 926.1,864.3 927.1,864.4 928.1,865.6 929.1,865.4 930.1,866.3 931.1,867 932.1,867.9 933.1,868.5 934.1,870.2 935.1,871 936.1,872 937.1,873.8 938.1,875.6 939.1,878.2 940.1,880.7 941.1,883.3 942.1,885.7 943.1,887.7 944.1,889.6 945.1,891.5 946.1,893.3 947.1,895.1 948.1,896.8 949.1,898.5 950.1,900.1 951.1,901.8 952.1,903.5 953.1,905.1 954.1,906.8 955.1,908.2 956.1,909.5 957.1,910.5 958.1,911.4 959.1,912 960.1,912.7 961.1,913.4 962.1,914.1 963.1,915.1 964.1,916.2 965.1,917.7 966.1,919.2 967.1,921 968.1,922.7 969.1,924.5 970.1,926.3 971.1,928 972.1,929.6 973.1,931.2 974.1,932.9 975.1,934.6 976.1,936.5 977.1,938.5 978.1,940.9 979.1,943.6 980.1,946.4 981.1,949.2 982.1,951.8 983.1,954.1 984.1,956.3 985.1,958.6 986.1,961 987.1,963.7 988.1,966.5 989.1,969.6 990.1,972.7 991.1,975.9 992.1,979.1 993.1,982.5 994.1,985.9 995.1,989.2 996.1,992.4 997.1,995.4 998.1,998.4 999.1,1001.3 1000.1,1004.3 1001.1,1007.5 1002.1,1010.8 1003.1,1014.1 1004.1,1017.5 1005.1,1020.9 1006.1,1024.3 1007.1,1027.8 1008.1,1031.2 1009.1,1034.5 1010.1,1037.6 1011.1,1040.4 1012.1,1043.1 1013.1,1045.7 1014.1,1048.3 1015.1,1050.8 1016.1,1053.6 1017.1,1056.6 1018.1,1059.4 1019.1,1061.7 1020.1,1063.2 1021.1,1063.7 1022.1,1063.6 1023.1,1063.2 1024.1,1062.8 1025.1,1062.2 1026.1,1061.5 1027.1,1060.7 1028.1,1059.7 1029.1,1058.1 1030.1,1056.1 1031.1,1053.9 1032.1,1051.4 1033.1,1048.9 1034.1,1046.4 1035.1,1043.6 1036.1,1040.5 1037.1,1037.3 1038.1,1034.1 1039.1,1031.1 1040.1,1028.3 1041.1,1025.8 1042.1,1023.4 1043.1,1021.1 1044.1,1018.7 1045.1,1016.2 1046.1,1013.4 1047.1,1010.4 1048.1,1007.1 1049.1,1003.7 1050.1,1000.2 1051.1,996.6 1052.1,992.9 1053.1,989 1054.1,985.3 1055.1,981.8 1056.1,978.7 1057.1,976 1058.1,973.5 1059.1,970.9 1060.1,968.2 1061.1,965.1 1062.1,961.8 1063.1,958.5 1064.1,955.6 1065.1,953.5 1066.1,952 1067.1,950.8 1068.1,949.7 1069.1,948.6 1070.1,947.5 1071.1,946.1 1072.1,944.4 1073.1,942.4 1074.1,940.4 1075.1,938.4 1076.1,936.7 1077.1,935.4 1078.1,934.6 1079.1,933.9 1080.1,933.4 1081.1,932.9 1082.1,932.4 1083.1,932 1084.1,931.6 1085.1,931.2 1086.1,930.8 1087.1,930.3 1088.1,929.9 1089.1,929.5 1090.1,929.1 1091.1,928.7 1092.1,928.3 1093.1,927.9 1094.1,927.6 1095.1,927.2 1096.1,926.8 1097.1,926.4 1098.1,926 1099.1,925.6 1100.1,925.3 1101.1,924.7 1102.1,924.7 1103.1,923.9 1104.1,924 1105.1,923.4 1106.1,923.2 1107.1,922.8 1108.1,922.9 1109.1,922.6 1110.1,922.8 1111.1,923 1112.1,923.4 1113.1,924.5 1114.1,926.4 1115.1,927.5 1116.1,930.6 1117.1,933.9 1118.1,935.4 1119.1,933.6 1120.1,931.3 1121.1,928.2 1122.1,925.4 1123.1,924.7 1124.1,925.2 1125.1,925.1 1126.1,925.1 1127.1,925.2 1128.1,925.1 1129.1,924.8 1130.1,924.8 1131.1,924.7 1132.1,925.2 1133.1,925.5 1134.1,926.1 1135.1,926.2 1136.1,926.8 1137.1,927.6 1138.1,928.8 1139.1,929.2 1140.1,930.6 1141.1,932.4 1142.1,935.9 1143.1,939.7 1144.1,944.1 1145.1,947.1 1146.1,948.7 1147.1,948.2 1148.1,947.9 1149.1,947.3 1150.1,946.1 1151.1,945.1 1152.1,943.5 1153.1,942.2 1154.1,940.9 1155.1,939.3 1156.1,938.2 1157.1,936.4 1158.1,935.1 1159.1,934.1 1160.1,933.4 1161.1,932.6 1162.1,932.7 1163.1,932.2 1164.1,932.5 1165.1,932.6 1166.1,932.3 1167.1,932.3 1168.1,932.5 1169.1,932.7 1170.1,932.7 1171.1,932.8 1172.1,932.7 1173.1,932.4 1174.1,933 1175.1,932.6 1176.1,932.5 1177.1,932.9 1178.1,932.7 1179.1,932.8 1180.1,933 1181.1,933.5 1182.1,933.2 1183.1,933.7 1184.1,934 1185.1,934 1186.1,934.6 1187.1,935.4 1188.1,936.4 1189.1,937.2 1190.1,937.8 1191.1,938.9 1192.1,939.3 1193.1,940.2 1194.1,941.4 1195.1,942.7 1196.1,943.9 1197.1,945.2 1198.1,946.3 1199.1,947.5 1200.1,948.5 1201.1,949.5 1202.1,950.4 1203.1,951.7 1204.1,952.8 1205.1,953.6 1206.1,954.1 1207.1,954.8 1208.1,955.4 1209.1,956.1 1210.1,956.4 1211.1,956.9 1212.1,957.6 1213.1,958 1214.1,957.9 1215.1,958.9 1216.1,958.8 1217.1,958.9 1218.1,959.3 1219.1,959.4 1220.1,959.5 1221.1,960 1222.1,959.7 1223.1,959.5 1224.1,959.8 1225.1,959.4 1226.1,959.3 1227.1,959.2 1228.1,959 1229.1,959 1230.1,958.5 1231.1,958.6 1232.1,958.2 1233.1,957.9 1234.1,957.6 1235.1,957.6 1236.1,956.9 1237.1,956.7 1238.1,956.3 1239.1,955.8 1240.1,955.2 1241.1,955 1242.1,954.4 1243.1,953.3 1244.1,952.6 1245.1,951.9 1246.1,950.6 1247.1,949.8 1248.1,949.2 1249.1,948 1250.1,947.2 1251.1,946.5 1252.1,945.6 1253.1,944.8 1254.1,944.1 1255.1,944.1 1256.1,943.5 1257.1,942.6 1258.1,942 1259.1,941.8 1260.1,941.4 1261.1,941.2 1262.1,940.6 1263.1,940.3 1264.1,940.7 1265.1,940.3 1266.1,940.4 1267.1,940.4 1268.1,940.8 1269.1,940.9 1270.1,940.6 1271.1,940.8 1272.1,940.9 1273.1,940.8 1274.1,941.1 1275.1,940.9 1276.1,941.3 1277.1,941 1278.1,941.1 1279.1,941.2 1280.1,941.3 1281.1,942 1282.1,942 1283.1,942.8 1284.1,943.1 1285.1,944.4 1286.1,945.2 1287.1,946.1 1288.1,947.2 1289.1,947.6 1290.1,949.1 1291.1,949.6 1292.1,951 1293.1,951.2 1294.1,952.1 1295.1,952.9 1296.1,953.3 1297.1,953.8 1298.1,953.4 1299.1,953.9 1300.1,953.4 1301.1,953.9 1302.1,953.7 1303.1,953.2 1304.1,953.1 1305.1,953 1306.1,952.9 1307.1,952.8 1308.1,952.7 1309.1,952.7 1310.1,952.6 1311.1,952.3 1312.1,952.6 1313.1,952.3 1314.1,952.1 1315.1,952.2 1316.1,952 1317.1,952 1318.1,952 1319.1,951.6 1320.1,951.9 1321.1,951.8 1322.1,951.8 1323.1,952.5 1324.1,953.3 1325.1,954 1326.1,954.8 1327.1,955.5 1328.1,956.1 1329.1,956.7 1330.1,956.5 1331.1,956.9 1332.1,956.5 1333.1,955.9 1334.1,954.7 1335.1,954 1336.1,953.1 1337.1,952 1338.1,950.6 1339.1,949.5 1340.1,949 1341.1,948.1 1342.1,947.8 1343.1,947 1344.1,946.5 1345.1,946.4 1346.1,945.7 1347.1,944.8 1348.1,944.5 1349.1,943.9 1350.1,943.5 1351.1,943.2 1352.1,942.8 1353.1,941.9 1354.1,941.5 1355.1,941.7 1356.1,941 1357.1,941.1 1358.1,940.8 1359.1,940.7 1360.1,940.6 1361.1,940.4 1362.1,940.7 1363.1,940.9 1364.1,940.5 1365.1,940.6 1366.1,940.9 1367.1,941 1368.1,941.4 1369.1,941.8 1370.1,941.7 1371.1,942.4 1372.1,942.3 1373.1,942.7 1374.1,943.3 1375.1,943.6 1376.1,944.4 1377.1,945.4 1378.1,946.7 1379.1,948.6 1380.1,950 1381.1,951.4 1382.1,952.8 1383.1,953.9 1384.1,953.7 1385.1,954.5 1386.1,954.6 1387.1,954.8 1388.1,954.9 1389.1,954.9 1390.1,955.3 1391.1,955.9 1392.1,956.3 1393.1,956.8 1394.1,957.8 1395.1,959 1396.1,960.4 1397.1,962 1398.1,963.5 1399.1,965.7 1400.1,966.9 1401.1,968.7 1402.1,970.6 1403.1,972.4 1404.1,973.8 1405.1,974.8 1406.1,976.1 1407.1,977.3 1408.1,977.9 1409.1,977.8 1410.1,978.3 1411.1,978.3 1412.1,977.7 1413.1,978.1 1414.1,977.6 1415.1,977.4 1416.1,977.5 1417.1,977.7 1418.1,977.5 1419.1,977.1 1420.1,977.4 1421.1,977 1422.1,977.2 1423.1,977 1424.1,977.1 1425.1,977 1426.1,977.2 1427.1,977.2 1428.1,977.5 1429.1,977.4 1430.1,977.7 1431.1,977.7 1432.1,977.5 1433.1,977.9 1434.1,978.2 1435.1,977.9 1436.1,977.9 1437.1,977.8 1438.1,977 1439.1,976.1 1440.1,975.1 1441.1,973.5 1442.1,972.2 1443.1,970.5 1444.1,968.7 1445.1,966.8 1446.1,964.9 1447.1,963.1 1448.1,961.3 1449.1,959.2 1450.1,957.7 1451.1,955.9 1452.1,954.5 1453.1,953.6 1454.1,952.6 1455.1,951.9 1456.1,951.4 1457.1,950.8 1458.1,950 1459.1,949.7 1460.1,949.5 1461.1,948.7 1462.1,948.8 1463.1,948.4 1464.1,948.4 1465.1,948.4 1466.1,948.3 1467.1,948.2 1468.1,947.7 1469.1,948 1470.1,947.5 1471.1,947.8 1472.1,947.7 1473.1,947.8 1474.1,947.4 1475.1,947.6 1476.1,947.3 1477.1,947 1478.1,947.5 1479.1,947 1480.1,947.1 1481.1,947.1 1482.1,947 1483.1,947 1484.1,946.9 1485.1,946.9 1486.1,946.8 1487.1,946.8 1488.1,946.8 1489.1,946.7 1490.1,946.7 1491.1,946.7 1492.1,946.7 1493.1,946.7 1494.1,946.8 1495.1,947 1496.1,947.5 1497.1,948.1 1498.1,948.8 1499.1,949.6 1500.1,950.5 1501.1,951.5 1502.1,952.5 1503.1,953.5 1504.1,954.5 1505.1,955.5 1506.1,956.5 1507.1,957.6 1508.1,958.8 1509.1,960.1 1510.1,961.4 1511.1,962.8 1512.1,964.2 1513.1,965.6 1514.1,967 1515.1,968.4 1516.1,969.7 1517.1,971 1518.1,972.3 1519.1,973.4 1520.1,974.5 1521.1,975.5 1522.1,976.5 1523.1,977.5 1524.1,978.4 1525.1,979.4 1526.1,980.3 1527.1,981.3 1528.1,982.3 1529.1,983.3 1530.1,984.4 1531.1,985.6 1532.1,986.8 1533.1,988.1 1534.1,989.4 1535.1,990.8 1536.1,992.1 1537.1,993.5 1538.1,994.9 1539.1,996.3 1540.1,997.7 1541.1,999 1542.1,1000.2 1543.1,1001.4 1544.1,1002.6 1545.1,1003.7 1546.1,1004.7 1547.1,1005.7 1548.1,1006.7 1549.1,1007.7 1550.1,1008.7 1551.1,1009.8 1552.1,1010.9 1553.1,1012.1 1554.1,1013.4 1555.1,1014.8 1556.1,1016.3 1557.1,1018.2 1558.1,1020.4 1559.1,1022.8 1560.1,1025.4 1561.1,1027.9 1562.1,1030.3 1563.1,1032.5 1564.1,1034.3 1565.1,1035.9 1566.1,1037.4 1567.1,1038.8 1568.1,1040.1 1569.1,1041.4 1570.1,1042.6 1571.1,1043.7 1572.1,1044.9 1573.1,1046.1 1574.1,1047.2 1575.1,1048.4 1576.1,1049.6 1577.1,1050.8 1578.1,1052.1 1579.1,1053.4 1580.1,1054.7 1581.1,1056 1582.1,1057.3 1583.1,1058.6 1584.1,1059.9 1585.1,1061.2 1586.1,1062.6 1587.1,1064 1588.1,1065.4 1589.1,1066.8 1590.1,1068.3 1591.1,1069.7 1592.1,1071.2 1593.1,1072.7 1594.1,1074.3 1595.1,1075.8 1596.1,1077.5 1597.1,1079.2 1598.1,1080.9 1599.1,1082.8 1600.1,1084.8 1601.1,1086.9 1602.1,1089.2 1603.1,1091.5 1604.1,1093.9 1605.1,1096.3 1606.1,1098.7 1607.1,1100.9 1608.1,1103.2 1609.1,1105.5 1610.1,1107.7 1611.1,1110 1612.1,1112.2 1613.1,1114.4 1614.1,1116.6 1615.1,1118.7 1616.1,1121 1617.1,1123.3 1618.1,1125.6 1619.1,1127.8 1620.1,1129.9 1621.1,1131.7 1622.1,1133.2 1623.1,1134.3 1624.1,1135.3 1625.1,1136.2 1626.1,1137 1627.1,1137.8 1628.1,1138.4 1629.1,1139 1630.1,1139.4 1631.1,1139.8 1632.1,1140.1 1633.1,1140.3 1634.1,1140.5 1635.1,1140.7 1636.1,1140.9 1637.1,1141.2 1638.1,1141.5 1639.1,1142 1640.1,1142.6 1641.1,1143.3 1642.1,1144.1 1643.1,1145.1 1644.1,1146.2 1645.1,1147.4 1646.1,1148.6 1647.1,1150 1648.1,1151.4 1649.1,1153 1650.1,1154.9 1651.1,1157.1 1652.1,1159.6 1653.1,1162.4 1654.1,1165.4 1655.1,1169.5 1656.1,1174.5 1657.1,1179.4 1658.1,1183.4 1659.1,1187.1 1660.1,1190.6 1661.1,1192.9 1662.1,1193.3 1663.1,1190.2 1664.1,1185.5 1665.1,1181.6 1666.1,1180.8 1667.1,1180.8 1668.1,1180.8 1669.1,1180.8 1670.1,1180.8 1671.1,1180.8 1672.1,1180.8 1673.1,1180.8 1674.1,1181 1675.1,1182.7 1676.1,1185.4 1677.1,1188.4 1678.1,1191 1679.1,1192.4 1680.1,1192.3 1681.1,1191.7 1682.1,1190.8 1683.1,1189.8 1684.1,1189 1685.1,1188.6 1686.1,1188.7 1687.1,1188.9 1688.1,1189.3 1689.1,1190 1690.1,1190.8 1691.1,1191.8 1692.1,1193 1693.1,1194.5" fill="none" stroke="#1464d8" stroke-width="2.8" stroke-linejoin="round" stroke-linecap="butt" />
<polyline points="147,814.6 148,815 149,815.2 150,815.7 151,814.9 152,815.5 153,812.3 154,813.8 155,815.5 156,814.4 157,815.2 158,812.3 159,813.6 160,812.7 161,813.8 162,813.8 163,811.8 164,812.5 165,812.6 166,814.9 167,814.3 168,812.1 169,814.4 170,812 171,813.6 172,811.8 173,811.4 174,814.5 175,812 176,812 177,814.8 178,814.3 179.1,812.2 180.1,814.6 181.1,813 182.1,813.5 183.1,811.7 184.1,814.4 185.1,813.4 186.1,814.4 187.1,814.1 188.1,811.9 189.1,812.1 190.1,811.4 191.1,811.3 192.1,810.9 193.1,811.8 194.1,812.8 195.2,810.6 196.2,813 197.2,811.8 198.2,811.7 199.2,813.5 200.3,812.2 201.3,811.6 202.3,812.2 203.3,812.9 204.3,810.6 205.4,813.9 206.4,810.4 207.4,813 208.4,813.3 209.4,810.3 210.5,813.1 211.5,811.5 212.5,812.3 213.5,810.2 214.6,810.3 215.6,810.7 216.6,813.5 217.6,810.7 218.6,812.7 219.7,813.3 220.7,813.4 221.7,811.2 222.7,811.2 223.7,811.8 224.8,812.6 225.8,810.2 226.8,812.5 227.8,812.4 228.9,812.4 229.9,809.2 231,812.2 232,808.8 233,809.5 234.1,810.2 235.1,811 236.2,808.7 237.2,810.5 238.2,808.7 239.2,807.4 240.2,807.3 241.2,806.6 242.2,806 243.2,805.7 244.2,806.2 245.2,806.9 246.2,805.4 247.3,805.3 248.3,807 249.3,806.3 250.3,806.1 251.3,805.8 252.3,806.5 253.4,807 254.4,806.4 255.4,806.4 256.4,805.8 257.4,807.4 258.4,805.9 259.5,806.8 260.5,807.5 261.5,806.2 262.5,807.3 263.5,807.7 264.5,807.2 265.5,807.4 266.5,806.2 267.5,806.8 268.5,806.3 269.5,807.6 270.5,806.6 271.5,806.9 272.5,807.9 273.5,807.6 274.5,807.9 275.5,806.9 276.5,807 277.5,807.4 278.5,807 279.5,806.7 280.5,806.9 281.5,806.4 282.5,806.8 283.5,807.9 284.5,807.9 285.5,807.3 286.5,807.1 287.6,806.8 288.6,806.4 289.6,806.7 290.6,807.6 291.6,807.8 292.6,806.9 293.6,807.7 294.6,807.6 295.6,807.5 296.6,807.5 297.6,807.6 298.6,806.9 299.6,807.6 300.6,806.8 301.6,807.2 302.6,807.7 303.6,807.6 304.6,806.9 305.6,808 306.6,807.5 307.6,807.4 308.6,806.4 309.6,807.4 310.6,806.8 311.6,807.6 312.6,807.2 313.6,807.9 314.6,807.6 315.6,807.8 316.6,807 317.6,807.6 318.6,807.7 319.6,807.9 320.6,807 321.6,807.9 322.6,808 323.6,807.6 324.6,808.2 325.6,808.1 326.6,807.3 327.6,807.4 328.6,806.7 329.7,807.9 330.7,808.1 331.7,807.3 332.7,807.6 333.7,807.7 334.7,807.7 335.7,806.7 336.7,807.8 337.7,807.4 338.7,807.6 339.7,807.2 340.7,807.5 341.7,807.8 342.7,807.5 343.7,807.7 344.7,806.4 345.7,806.7 346.7,807.2 347.7,807.6 348.7,806.8 349.7,807.6 350.7,807.5 351.7,806.5 352.7,807.2 353.7,806.8 354.7,806.5 355.7,806.6 356.7,807 357.7,806.7 358.7,806.7 359.7,806.5 360.7,807.2 361.8,807.1 362.8,807.5 363.8,807.5 364.8,806.8 365.8,808 366.8,806.4 367.8,807.1 368.8,806.9 369.8,807.1 370.8,806.6 371.8,807.9 372.8,807.1 373.8,806.5 374.8,807.5 375.8,806.6 376.8,807.4 377.8,807 378.8,807.4 379.8,808.1 380.8,807.9 381.8,807.2 382.8,807.9 383.8,807.6 384.8,807.1 385.8,806.7 386.8,807.5 387.8,807.4 388.8,808.1 389.8,808.1 390.8,807.5 391.8,807 392.9,808 393.9,806.4 394.9,806.6 395.9,807.4 396.9,807.5 397.9,806.7 398.9,807.5 399.9,808 400.9,807.1 401.9,807.2 402.9,806.8 403.9,806.9 404.9,808.2 405.9,807.1 406.9,808.1 407.9,808 408.9,807.5 409.9,806.9 410.9,808.2 411.9,807.3 412.9,807.1 413.9,807 414.9,808.2 415.9,807.3 416.9,806.9 417.9,807.3 418.9,806.6 419.9,807.5 420.9,807.2 421.9,806.9 422.9,807.8 423.9,807.9 425,806.4 426,807.4 427,806.9 428,808.1 429,807.8 430,806.8 431,806.9 432,806.7 433,808.2 434,806.9 435,807.5 436,807.3 437,807.6 438,807.5 439,807.7 440,806.6 441,807.8 442,806.9 443,807.4 444,807 445,806.9 446,807.4 447.1,807.2 448.1,807.1 449.1,807.7 450.1,807.5 451.1,806.5 452.1,806.9 453.1,807.2 454.1,808.1 455.1,808 456.1,807.4 457.1,806.4 458.1,807.8 459.1,807.2 460.1,807.5 461.2,807.7 462.2,807.6 463.2,807.3 464.2,808.1 465.2,807.1 466.2,807.1 467.2,808 468.2,806.8 469.2,807 470.2,807.9 471.2,806.5 472.2,807.9 473.2,807.7 474.2,807.2 475.3,806.9 476.3,807.8 477.3,808.1 478.3,806.7 479.3,807.3 480.3,807.4 481.3,807.3 482.3,807 483.3,806.7 484.3,807.5 485.3,807.9 486.3,806.6 487.3,806.9 488.4,807.9 489.4,807.9 490.4,807.6 491.4,806.5 492.4,807.7 493.4,808.2 494.4,808.2 495.4,807.7 496.4,806.5 497.4,808 498.4,806.8 499.4,807.6 500.4,808.2 501.4,807.7 502.5,806.7 503.5,807 504.5,808.1 505.5,806.7 506.5,807.6 507.5,807.2 508.5,806.8 509.5,807.6 510.5,806.5 511.5,806.7 512.5,807.1 513.5,806.6 514.5,806.6 515.6,807.5 516.6,807.8 517.6,808.1 518.6,806.7 519.6,807.2 520.6,807 521.6,807.6 522.6,807.4 523.6,808.2 524.6,807.2 525.6,806.6 526.6,807.7 527.6,806.8 528.6,807.6 529.7,807.4 530.7,808.1 531.7,807.5 532.7,807.6 533.7,807 534.7,807.5 535.7,806.9 536.7,807.8 537.7,807.4 538.7,806.7 539.7,806.9 540.7,807.2 541.7,807.8 542.7,806.8 543.8,807.8 544.8,807.7 545.8,806.6 546.8,807.7 547.8,806.7 548.8,806.7 549.8,807.6 550.8,807.8 551.9,809.8 552.9,809.9 554,810.5 555,812.2 556,810.7 557,811.8 558,810.4 559,810.4 560,811.7 561,811 562,810 563,809.8 564,811.3 565,810.7 566,811 567.1,809.7 568.1,810.6 569.1,810.1 570.1,809.9 571.1,810 572.1,810.5 573.1,810 574.1,810 575.1,809.6 576.1,810.8 577.2,810.5 578.2,810.7 579.2,810 580.2,810.8 581.2,810.1 582.2,810.3 583.2,810.2 584.2,810.5 585.2,809.8 586.2,809.3 587.3,809.6 588.3,810.3 589.4,810.5 590.4,812.4 591.5,812.1 592.5,813 593.6,812.1 594.6,813.4 595.7,814.6 596.7,814.5 597.7,814 598.7,813.8 599.7,812.9 600.7,812.8 601.7,812.6 602.8,812.8 603.8,812.6 604.8,813.3 605.8,811.7 606.8,811.7 607.8,811.5 608.8,811.1 609.8,810.9 610.9,810.5 611.9,810.5 613,809.3 614,810.6 615,809.2 616.1,809.8 617.1,809 618.2,808.6 619.2,807.8 620.2,808.7 621.2,807.2 622.2,808.2 623.2,807.5 624.2,808.2 625.2,808.3 626.3,807.3 627.3,807.4 628.3,807.1 629.3,807.4 630.3,807.2 631.3,807.8 632.3,808.8 633.3,807.7 634.3,807.6 635.3,807.9 636.3,807.6 637.3,808.4 638.4,808.3 639.4,807.4 640.4,807.5 641.4,808.3 642.4,808.8 643.4,808.2 644.4,807.9 645.4,808.8 646.4,807.1 647.4,807.2 648.4,808.5 649.4,807.8 650.4,807.2 651.5,808.1 652.5,808.9 653.5,808 654.5,807.7 655.5,807.3 656.5,807.2 657.5,808.7 658.5,808 659.5,808.8 660.5,807.2 661.5,807.6 662.5,807.2 663.6,807.8 664.6,807.2 665.6,807.6 666.6,807.9 667.6,807.7 668.6,807.2 669.6,807.2 670.6,808.9 671.6,807.5 672.6,808.1 673.6,807.9 674.6,808.1 675.6,807.3 676.7,807.7 677.7,807.4 678.7,808.2 679.7,808.8 680.7,808.3 681.7,808.7 682.7,807.6 683.7,807.2 684.7,808.2 685.7,808.1 686.7,808.2 687.7,807.9 688.8,808.3 689.8,808.5 690.8,808.9 691.8,807.8 692.8,808 693.8,808.7 694.8,807.6 695.8,807.4 696.8,807.8 697.8,807.4 698.8,808.6 699.8,808.7 700.8,807.8 701.9,807.5 702.9,807.4 703.9,807.7 704.9,807.4 705.9,808 706.9,808.3 707.9,807.7 708.9,807.4 709.9,808.5 710.9,807.4 711.9,807.6 712.9,807.8 714,808 715,807.5 716,808 717,807.9 718,808.6 719,808.3 720,808.9 721,808.5 722,808.7 723,808.3 724,808.1 725,808.8 726,808.5 727,809 728,808.6 729.1,808.6 730.1,807.8 731.1,808.8 732.1,808 733.1,807.5 734.1,807.4 735.1,807.6 736.1,807.8 737.1,808.5 738.1,807.8 739.1,807.4 740.1,808.7 741.1,808.3 742.1,807.3 743.1,807.4 744.1,807.5 745.1,807.9 746.2,808.8 747.2,809 748.2,808.4 749.2,807.7 750.2,808.1 751.2,808 752.2,807.9 753.2,807.3 754.2,808.4 755.2,808.8 756.2,808.6 757.2,807.5 758.2,808.3 759.2,807.6 760.2,808.6 761.2,808.1 762.2,809 763.2,808.7 764.3,807.5 765.3,807.9 766.3,808.9 767.3,808.1 768.3,808.1 769.3,808.1 770.3,808.7 771.3,809 772.3,808.3 773.3,809 774.3,808.4 775.3,807.5 776.3,808.8 777.3,808.1 778.3,807.4 779.3,809.1 780.3,807.4 781.4,808.3 782.4,808.2 783.4,808.9 784.4,808 785.4,807.7 786.4,807.8 787.4,807.7 788.4,808.3 789.4,807.9 790.6,810.7 791.7,811.8 792.9,814 794.1,811.8 795.2,811.1 796.4,808.8 797.4,808.8 798.4,808.4 799.4,808.1 800.4,807.6 801.4,808.9 802.4,808.3 803.4,807.5 804.4,807.7 805.4,807.6 806.4,808.7 807.4,809.1 808.4,807.8 809.4,808.9 810.4,808.1 811.4,808.7 812.4,809.1 813.4,808.6 814.4,809 815.4,808.2 816.4,807.6 817.4,808.5 818.4,808.6 819.4,807.9 820.4,808.3 821.5,808.2 822.5,807.7 823.5,808.2 824.5,808.3 825.5,808.5 826.5,808.9 827.5,808.4 828.5,809.5 829.5,809.2 830.5,809.4 831.5,809 832.5,809 833.5,808.7 834.5,809.2 835.5,808.4 836.5,808.9 837.5,809 838.5,808.8 839.5,808.3 840.5,808 841.5,808 842.5,808.5 843.5,808.9 844.5,809.3 845.5,809.2 846.5,808.5 847.5,809.6 848.5,808.4 849.5,809.2 850.5,808.1 851.5,809.3 852.5,809.2 853.5,809.7 854.5,809.6 855.5,809.3 856.5,809.6 857.5,809.4 858.5,809.2 859.5,808.5 860.5,809 861.5,809.7 862.5,808.5 863.5,809.9 864.5,809.1 865.5,808.9 866.5,808.2 867.5,808.9 868.5,808.5 869.6,809.4 870.6,809.8 871.6,809.9 872.6,809.3 873.6,808.9 874.6,808.5 875.6,809.5 876.6,809.3 877.6,809.6 878.6,809 879.6,809.9 880.6,808.7 881.6,808.9 882.6,808.8 883.6,809.5 884.6,810 885.6,808.7 886.6,809.6 887.6,809.8 888.6,808.8 889.6,808.6 890.6,809.5 891.6,810 892.6,810.1 893.6,809.8 894.6,809.5 895.7,809.7 896.7,810.1 897.8,811 898.8,810.2 899.8,810.4 900.9,811.2 901.9,812.1 903,810.9 904,810.9 905,811 906,811.8 907,811.9 908,811.1 909,811.1 910,811.9 911,812 912,812 913,812.1 914,810.9 915,811.7 916,812.3 917,812.5 918,811.4 919,812.3 920,812 921,812.5 922,811.2 923,812.1 924,812.3 925,811.7 926,811 927,811.1 928,811.1 929,811 930,811.1 931,811.9 932,811 933,812.2 934,812.1 935,812.3 936,812.2 937,812.1 938,812.6 939,812.7 940,812.2 941,812.9 942,811.5 943,811.6 944,811.6 945,812 946,812.4 947,812.6 948,813.1 949,813.3 950,812.3 951,812.9 952,813.3 953,813.1 954,812.7 955,813.7 956,813.4 957,814 958,813.8 959,814.7 960,814.8 961,813.3 962,814.7 963,814.7 964,814.2 965.1,814.1 966.1,815 967.2,815.1 968.2,816 969.3,816.6 970.4,815.9 971.4,816 972.5,816.6 973.5,817.3 974.5,817.2 975.6,816.7 976.6,816 977.6,815.9 978.7,816.7 979.7,815.9 980.7,814.9 981.8,815.4 982.8,814.9 983.8,815.5 984.9,814.2 985.9,814.4 986.9,813.9 988,814.4 989,815.2 990,814.3 991,813.9 992,814.7 993,813.1 994,813.5 995,814.2 996,812.6 997,813.9 998,813 999,812.3 1000,812.6 1001,812.9 1002,812.6 1003,812.7 1004,811.8 1005,812 1006,813.2 1007,812.1 1008,812.1 1009,811.3 1010,811.5 1011,812.4 1012,811.6 1013,810.9 1014.1,809.7 1015.1,810 1016.1,810.4 1017.1,809.4 1018.1,809.4 1019.1,809.6 1020.2,808.8 1021.2,808.4 1022.2,807 1023.2,806.6 1024.3,807.7 1025.4,806.8 1026.5,807.3 1027.6,807 1028.7,806.9 1029.8,805.6 1030.9,806.5 1032,805.8 1033,806.2 1034,805 1035,806.3 1036,805.8 1037,806.9 1038,807.1 1039,805.8 1040,806.4 1041,806.2 1042,806.7 1043,806.6 1044,807.4 1045,806.6 1046,806.8 1047,807.5 1048,806.9 1049,807.6 1050,808.7 1051,808.8 1052,807.8 1053,807.6 1054,809.2 1055,809.5 1056,809 1057,808.3 1058.1,808.6 1059.1,809.9 1060.1,810.1 1061.1,808.5 1062.1,808.9 1063.1,809.5 1064.2,809.3 1065.2,810.3 1066.2,809.7 1067.2,810.6 1068.2,809.6 1069.2,810.3 1070.2,811.3 1071.3,810.9 1072.3,809.9 1073.3,810 1074.3,811.1 1075.3,810.7 1076.3,810.8 1077.4,811.2 1078.4,811.5 1079.4,812.3 1080.4,811.1 1081.4,811.8 1082.4,811.3 1083.4,812 1084.5,812.4 1085.5,811.4 1086.5,812.2 1087.5,812.7 1088.5,811.6 1089.5,813 1090.6,812.5 1091.6,812.8 1092.6,813.1 1093.6,813.5 1094.6,812.4 1095.6,813.3 1096.6,812.6 1097.6,813.4 1098.6,813.5 1099.6,813 1100.6,813.7 1101.6,814.1 1102.6,814.6 1103.6,815.3 1104.6,814.4 1105.6,814.9 1106.6,815.3 1107.6,815.9 1108.6,816.1 1109.6,816.3 1110.6,815.2 1111.6,815.1 1112.6,816.6 1113.6,815.2 1114.6,816.1 1115.6,816.7 1116.7,817.3 1117.8,818 1118.9,820 1120,819.8 1121.1,821.2 1122.2,822.7 1123.3,822.4 1124.4,823.7 1125.5,826.2 1126.6,828.5 1127.7,822.7 1128.8,818.1 1129.9,812.2 1130.9,812.1 1131.9,812.3 1132.9,811.8 1133.9,813.1 1134.9,811.7 1136,811.5 1137,812.2 1138,812 1139,810.9 1140,811.8 1141,811.2 1142,810.6 1143,810.9 1144,810.1 1145,810.1 1146,811.1 1147,810.2 1148,810.9 1149,809.5 1150,809.3 1151,809.1 1152,810.2 1153,809.8 1154,808.7 1155,808.7 1156,810 1157,809.3 1158,809.9 1159,808.3 1160,809.2 1161,808.2 1162,809.2 1163,808.9 1164,808.8 1165,808.4 1166,810 1167,808.8 1168,809 1169,810.4 1170,809.7 1171,809.9 1172,810.9 1173,811.6 1174,812.3 1175,812.3 1176,811.4 1177,812.8 1178,813.4 1179,812.4 1180,813.9 1181,813.3 1182,813.6 1183,813.4 1184,815.1 1185,814.9 1186,815.9 1187.1,815.7 1188.2,815.7 1189.3,816.3 1190.4,817 1191.5,818.8 1192.5,818 1193.6,818.3 1194.7,819.3 1195.8,819.4 1196.9,820.6 1198,820.8 1199.1,820.7 1200.2,819.7 1201.3,819.5 1202.4,820 1203.5,820.2 1204.6,819.6 1205.7,819.7 1207,804.9 1208.1,803.7 1209.2,804 1210.2,804.5 1211.3,804.7 1212.4,805.4 1213.5,804.9 1214.6,805.2 1215.7,804.9 1216.7,805.6 1217.8,805.8 1218.9,804.9 1220,810.6 1221.1,817 1222.2,816.7 1223.3,817.3 1224.4,815.7 1225.5,816 1226.6,815.6 1227.7,815.7 1228.8,813.8 1229.9,814.6 1230.9,813.5 1231.9,812.7 1232.9,813.3 1234,813.4 1235,812.6 1236,811.3 1237,812.6 1238,811.2 1239,811.3 1240.1,811.1 1241.1,809.9 1242.1,809.9 1243.1,809.4 1244.1,809 1245.1,808.9 1246.1,810.1 1247.1,809.5 1248.1,810.4 1249.1,808.9 1250.1,809.3 1251.1,809.1 1252.1,810.5 1253.1,810.2 1254.1,810.4 1255.1,810.4 1256.1,810.4 1257.1,811.6 1258.1,812 1259.1,812.3 1260.1,814 1261.1,814.2 1262.1,814.6 1263.1,816 1264.1,817.5 1265.1,818.2 1266.1,817.1 1267.2,816.2 1268.2,817.2 1269.2,815.8 1270.2,816.4 1271.3,815.3 1272.3,816.7 1273.3,815.7 1274.3,815.3 1275.4,814.8 1276.4,815.1 1277.4,815.6 1278.4,814.4 1279.5,813.8 1280.5,814.1 1281.5,815.3 1282.5,814.7 1283.5,815.5 1284.5,816.5 1285.5,815.8 1286.5,817.1 1287.5,817 1288.5,816.7 1289.5,816.9 1290.5,818.9 1291.5,818.4 1292.5,818.3 1293.5,819.1 1294.5,818.4 1295.6,818.2 1296.6,817.7 1297.6,818.4 1298.6,817.5 1299.6,817.8 1300.6,818.2 1301.7,817.8 1302.7,816.9 1303.7,816.9 1304.7,817.8 1305.7,817.7 1306.7,816.5 1307.7,818 1308.8,816.4 1309.8,816.4 1310.8,816.2 1311.8,816.7 1312.8,816.9 1313.8,817.3 1314.9,815.9 1315.9,816.8 1316.9,815.7 1317.9,816.4 1318.9,815.8 1319.9,815.8 1320.9,815.2 1321.9,816.3 1322.9,815.1 1323.9,816.2 1324.9,815.3 1325.9,815.7 1326.9,815.7 1327.9,815.3 1328.9,815.9 1329.9,815.9 1330.9,814.6 1331.9,814.6 1332.9,815.5 1333.9,814 1334.9,814.5 1335.9,814.3 1336.9,815.3 1337.9,813.6 1338.9,814.5 1339.9,814.6 1340.9,814.5 1341.9,813.3 1342.9,815 1343.9,813.9 1345,814.9 1346,814.6 1347,814.2 1348,814.9 1349,814.7 1350,814.1 1351,814.8 1352,814.5 1353,814.9 1354.1,814.7 1355.1,815.1 1356.1,814 1357.1,814.6 1358.1,813.7 1359.1,815.2 1360.1,815.2 1361.1,815.3 1362.1,813.9 1363.1,814.8 1364.2,814.8 1365.2,814.2 1366.2,814.3 1367.2,815.8 1368.2,815.6 1369.2,814.5 1370.2,815.6 1371.2,815.3 1372.2,814.8 1373.3,815.3 1374.3,814.6 1375.3,814.7 1376.3,814.3 1377.3,815.5 1378.3,815.7 1379.4,816.3 1380.4,816.3 1381.5,816.5 1382.5,816.6 1383.5,817.7 1384.6,817.4 1385.6,818.2 1386.7,818.8 1387.7,818.6 1388.7,819.2 1389.7,818.4 1390.7,819 1391.7,820.1 1392.7,819.2 1393.7,819.3 1394.7,819.4 1395.7,820.8 1396.7,820 1398,822.9 1399.2,825.2 1400.5,828.2 1401.8,845.6 1403,832 1404.3,832.3 1405.6,834.6 1407,850.4 1408.2,861.5 1409.5,873.1 1410.5,850.2 1412,829.3 1413.1,834.7 1414.2,839.5 1415.3,843.6 1416.5,848.8 1417.8,852.8 1419.1,840 1420.4,828.3 1421.5,833 1422.5,836.9 1423.6,841.6 1425.5,900.1 1426.8,916.7 1428.1,932.7 1429,899.9 1430,885.1 1431.3,840.9 1432.5,879.8 1433.5,891.1 1434.5,904 1436.4,879.6 1437.7,862.6 1439,845.1 1440,845.2 1441,845 1442.1,844.7 1443.1,843.9 1444.1,844.3 1445.1,842.8 1446.1,840.6 1447.2,838.8 1448.2,836.5 1449.2,834.5 1450.3,833.6 1451.4,832.6 1452.5,831.3 1453.6,829.6 1454.7,828.9 1455.8,827.8 1456.9,827 1458,825.6 1459.1,824.1 1460.2,822.6 1461.3,821.7 1462.4,820.5 1463.5,820.1 1464.6,819.1 1465.7,817.9 1466.7,818.1 1467.8,818.3 1468.9,817.2 1469.9,816.5 1471,817 1472.1,816.3 1473.1,815.6 1474.2,815.5 1475.3,814.7 1476.3,814.7 1477.4,814.8 1478.4,814.2 1479.4,813.9 1480.4,814.6 1481.4,815.2 1482.4,814.9 1483.4,814 1484.4,814.8 1485.4,813.3 1486.4,813.3 1487.4,813 1488.4,813 1489.4,813.7 1490.4,813.9 1491.4,813.3 1492.4,813.7 1493.4,813 1494.4,813.7 1495.4,813.1 1496.4,812.9 1497.4,812.3 1498.5,812.7 1499.5,812.7 1500.5,813.3 1501.5,812.3 1502.6,812.4 1503.6,813.2 1504.6,812 1505.6,812.7 1506.7,812.2 1507.7,812.9 1508.7,812.7 1509.7,811.9 1510.8,812.9 1511.8,812.4 1512.8,812.2 1513.8,813 1514.9,812.9 1515.9,812.1 1516.9,812.7 1517.9,811.8 1519,812.4 1520,811.7 1521,812.5 1522,812.9 1523.1,812.4 1524.1,811.3 1525.2,812 1526.2,811.8 1527.3,811.7 1528.3,811.2 1529.3,811.3 1530.4,811.5 1531.4,810.8 1532.5,811.7 1533.5,810.9 1534.6,810.9 1535.6,810.5 1536.7,810.8 1537.7,811.7 1539.6,831.2 1540.9,850.8 1542.2,871.1 1544.1,828.4 1545.4,823.2 1546.7,819.7 1547.8,818.4 1548.9,818.1 1550,816.6 1551.1,815 1552.2,815.1 1553.3,813.1 1554.4,812.6 1556,811.9 1556,812.1 1556.8,813.8 1557.5,809.9 1558.2,812.4 1559,808.2 1559.8,810.8 1560.5,807.3 1561.2,810.5 1562,806.6 1562.8,809.7 1563.5,807.5 1564.2,811.4 1565,806.3 1565.8,810 1566.5,806.6 1567.2,809.4 1568,806 1568.8,810.3 1569.5,806 1570.2,811.3 1571,805.9 1571.8,809.6 1572.5,806.1 1573.2,809.7 1574,806.6 1574.8,810.7 1575.5,806.7 1576.2,810.2 1577,806.2 1577.8,810.2 1578.5,805.1 1579.2,811.6 1580,806.8 1580.8,810.1 1581.5,805.5 1582.2,811 1583,804.9 1583.8,810.2 1584.5,805.6 1585.2,810.6 1586,804.5 1586.8,810.4 1587.5,805.4 1588.2,810.4 1589,805 1589.8,809.5 1590.5,805.1 1591.2,812.3 1592,803.6 1592.8,810.2 1593.5,804.8 1594.2,812 1595,803.5 1595.8,810.8 1596.5,805.3 1597.2,812.6 1598,802.9 1598.8,810.4 1599.5,802.7 1600.2,812.7 1601,801.7 1601.8,812.1 1602.5,802.4 1603.2,808.8 1604,801 1604.8,813.2 1605.5,803.9 1606.2,808.7 1607,801.2 1607.8,812.6 1608.5,802 1609.2,811 1610,801.1 1610,797 1610.8,809.6 1611.5,802.6 1612.2,809 1613,799.6 1613.8,809.6 1614.5,802 1615.2,812 1616,800.6 1616.8,809.5 1617.5,798.3 1618.2,812 1619,797.3 1619.8,810.3 1620.5,797.5 1621.2,813.9 1622,798.8 1622.8,813.5 1623.5,800.6 1624.2,810.1 1625,798.5 1625.8,812.6 1626.5,798.3 1627.2,809.7 1628,798.9 1628.8,807.2 1629.5,798.5 1630.2,812.6 1631,799.3 1631.8,810.7 1631.8,784.5 1632.5,798.6 1633.2,807.5 1634,796 1634.8,813.5 1635.5,797.6 1636.2,811.2 1637,794.3 1637.8,811.8 1638.5,795.6 1639.2,809.5 1640,794.9 1640.8,807.6 1641.5,794.1 1642.2,812 1643,798.4 1643.8,814 1644.5,796.7 1645.2,813.7 1646,797.6 1646,789 1646.8,814.9 1647.5,797.5 1648.2,810.4 1649,801.1 1649.8,813.7 1650.5,798.2 1651.2,811.7 1652,798.4 1652.8,812.4 1653.5,801.3 1654.2,814.9 1655,801.3 1655.8,812.6 1656.5,802.2 1657.2,819.9 1658,802.4 1658.8,822.6 1659.5,804.9 1660.2,824.9 1661,810.5 1661.8,828.3 1662.5,806.5 1663.2,823.3 1664,805.5 1664.8,820.7 1665.5,800.9 1665.5,857.5 1666.2,820.6 1667,799.8 1667.8,823.4 1668.5,798.8 1669.2,818.8 1670,799.8 1670.8,822.3 1671.5,799.7 1672.2,823.7 1673,803.8 1673.8,822.5 1674.5,801 1675.2,818 1676,801.3 1676.8,819.7 1677,812" fill="none" stroke="#4d4d4d" stroke-width="2.6" stroke-linejoin="round" stroke-linecap="butt" />
<polygon points="1677.9,812 1682,814 1686,820 1690,829 1691.3,877 1677.9,877" fill="#4d4d4d"/>
<rect x="1677.9" y="812" width="4.8" height="170.3" fill="#4d4d4d"/>
<rect x="1686.3" y="820" width="3.7" height="103" fill="#4d4d4d"/>
<rect x="1690" y="829" width="3.6" height="148.5" fill="#4d4d4d"/>
<rect x="1691.6" y="960" width="1.6" height="151" fill="#4d4d4d"/>
<rect x="144" y="34" width="5" height="1189" fill="#000"/>
<rect x="122" y="53.6" width="1580.5" height="5.2" fill="#000"/>
<rect x="1697.2" y="53.6" width="5.2" height="1148" fill="#000"/>
<rect x="135.5" y="1198.6" width="1566.9" height="3" fill="#000"/>
<rect x="474.2" y="34.6" width="3" height="20" fill="#000"/>
<rect x="474.2" y="1200" width="3" height="23" fill="#000"/>
<rect x="802.7" y="34.6" width="3" height="20" fill="#000"/>
<rect x="802.7" y="1200" width="3" height="23" fill="#000"/>
<rect x="1130.5" y="34.6" width="5" height="20" fill="#000"/>
<rect x="1130.5" y="1200" width="5" height="23" fill="#000"/>
<rect x="1460.3" y="34.6" width="4.5" height="20" fill="#000"/>
<rect x="1460.3" y="1200" width="4.5" height="23" fill="#000"/>
<rect x="307.5" y="45" width="5" height="10" fill="#000"/>
<rect x="307.5" y="1200" width="5" height="11.7" fill="#000"/>
<rect x="637.2" y="45" width="5" height="10" fill="#000"/>
<rect x="637.2" y="1200" width="5" height="11.7" fill="#000"/>
<rect x="967.5" y="45" width="2.5" height="10" fill="#000"/>
<rect x="967.5" y="1200" width="2.5" height="11.7" fill="#000"/>
<rect x="1296.2" y="45" width="2.5" height="10" fill="#000"/>
<rect x="1296.2" y="1200" width="2.5" height="11.7" fill="#000"/>
<rect x="1623.8" y="45" width="4.5" height="10" fill="#000"/>
<rect x="1623.8" y="1200" width="4.5" height="11.7" fill="#000"/>
<rect x="122.5" y="53.6" width="22" height="5.2" fill="#000"/>
<rect x="122.5" y="307.2" width="22" height="5" fill="#000"/>
<rect x="122.5" y="562" width="22" height="3" fill="#000"/>
<rect x="122.5" y="816.2" width="22" height="5" fill="#000"/>
<rect x="122.5" y="1071.5" width="22" height="3" fill="#000"/>
<rect x="135.5" y="181.8" width="9" height="2.5" fill="#000"/>
<rect x="135.5" y="435.4" width="9" height="4" fill="#000"/>
<rect x="135.5" y="688.9" width="9" height="3.5" fill="#000"/>
<rect x="135.5" y="943.1" width="9" height="3.5" fill="#000"/>
<text transform="translate(145.3,1274.8) scale(1,1.045)" x="0" y="0" font-size="47.3" text-anchor="middle">3000</text>
<text transform="translate(474.5,1274.8) scale(1,1.045)" x="0" y="0" font-size="47.3" text-anchor="middle">2500</text>
<text transform="translate(803,1274.8) scale(1,1.045)" x="0" y="0" font-size="47.3" text-anchor="middle">2000</text>
<text transform="translate(1131.8,1274.8) scale(1,1.045)" x="0" y="0" font-size="47.3" text-anchor="middle">1500</text>
<text transform="translate(1461.4,1274.8) scale(1,1.045)" x="0" y="0" font-size="47.3" text-anchor="middle">1000</text>
<rect x="1082" y="1270.6" width="9" height="5" fill="#fdfdfd"/>
<rect x="1095.4" y="1270.6" width="9" height="5" fill="#fdfdfd"/>
<rect x="1411" y="1270.6" width="9.5" height="5" fill="#fdfdfd"/>
<rect x="1425" y="1270.6" width="9.5" height="5" fill="#fdfdfd"/>
<text x="757" y="1356.7" font-size="42.3" stroke="#fdfdfd" stroke-width="0.5" letter-spacing="0.3">Wavelength, cm</text>
<text x="1069" y="1337.4" font-size="27">−<tspan dx="3">1</tspan></text>
<text transform="translate(61.2,787.6) rotate(-90) scale(1,1.025)" x="0" y="0" font-size="42.9" stroke="#fdfdfd" stroke-width="0.5">Transmittance %</text>
<rect x="186.2" y="84.6" width="369.8" height="221" fill="none" stroke="#111" stroke-width="2.4"/>
<line x1="186.2" y1="84.6" x2="556" y2="84.6" stroke="#555" stroke-width="2.4"/>
<line x1="190" y1="114.9" x2="291" y2="114.9" stroke="#22a65e" stroke-width="2.6"/>
<line x1="190" y1="168.2" x2="291" y2="168.2" stroke="#1464d8" stroke-width="3.2"/>
<line x1="190" y1="222.6" x2="291" y2="222.6" stroke="#f33a3d" stroke-width="3.4"/>
<line x1="190" y1="275.6" x2="291" y2="275.6" stroke="#4d4d4d" stroke-width="2.6"/>
<text transform="translate(289.6,129.6) scale(0.955,1.06)" font-size="45" font-weight="bold">CE</text>
<text transform="translate(301.6,182) scale(1,1.045)" font-size="42.5" font-weight="bold">PPE</text>
<text x="301" y="236.3" font-size="42" font-weight="bold" letter-spacing="0.5">nHAPs_CE</text>
<text x="301" y="290.4" font-size="42" font-weight="bold" letter-spacing="0.5">nHAPs_PPE</text>
<text x="193.5" y="388.5" font-size="27">C-H</text>
<text x="1009" y="364.4" font-size="27" letter-spacing="0.3">OH-</text>
<text x="1166" y="240.9" font-size="27" letter-spacing="2">CO</text>
<text x="1208.5" y="228.3" font-size="18">3-</text>
<text x="1384.5" y="208.6" font-size="27">PO</text>
<text transform="translate(1424.5,216.6) scale(1,1.15)" font-size="18">4</text>
<text x="1434.5" y="196.9" font-size="18">3</text>
<text transform="translate(1515,178.8) scale(1,1.1)" font-size="27">PO</text>
<text transform="translate(1554.5,184.4) scale(1,1.15)" font-size="18">4</text>
<text x="1566" y="167.7" font-size="18">3</text>
<text x="1564" y="236.4" font-size="27">PO</text>
<text transform="translate(1603.5,243.5) scale(1,1.15)" font-size="18">4</text>
<text x="1614.2" y="224.8" font-size="18">3-</text>
<text x="1496.2" y="440.3" font-size="27">HPO</text>
<text transform="translate(1554.5,448.6) scale(1,1.15)" font-size="18">4</text>
<text x="1565.4" y="429.9" font-size="18">2</text>
<text x="183" y="776" font-size="27" letter-spacing="1.3">C-H</text>
<text transform="translate(1011,777.8) scale(1,1.08)" font-size="27" letter-spacing="0.3">OH-</text>
<text x="1175.2" y="783.3" font-size="27">CO</text>
<text x="1216.6" y="772.2" font-size="18">3-</text>
<text x="1381.6" y="778.3" font-size="27">PO</text>
<text transform="translate(1421.3,786.7) scale(1,1.15)" font-size="18">4</text>
<text x="1432.6" y="767.6" font-size="18">3-</text>
<text x="1529.6" y="789.3" font-size="27">PO</text>
<text transform="translate(1569,800) scale(1,1.15)" font-size="18">4</text>
<text x="1582" y="778" font-size="18">3</text>
<text x="1593.8" y="775.4" font-size="27">PO</text>
<text transform="translate(1634,783) scale(1,1.15)" font-size="18">4</text>
<text x="1645.3" y="764" font-size="18">3</text>
<text x="1474.3" y="904" font-size="27">HPO</text>
<text transform="translate(1533,909) scale(1,1.15)" font-size="18">4</text>
<text x="1544" y="893" font-size="18">2</text>
</svg>
</body></html>
